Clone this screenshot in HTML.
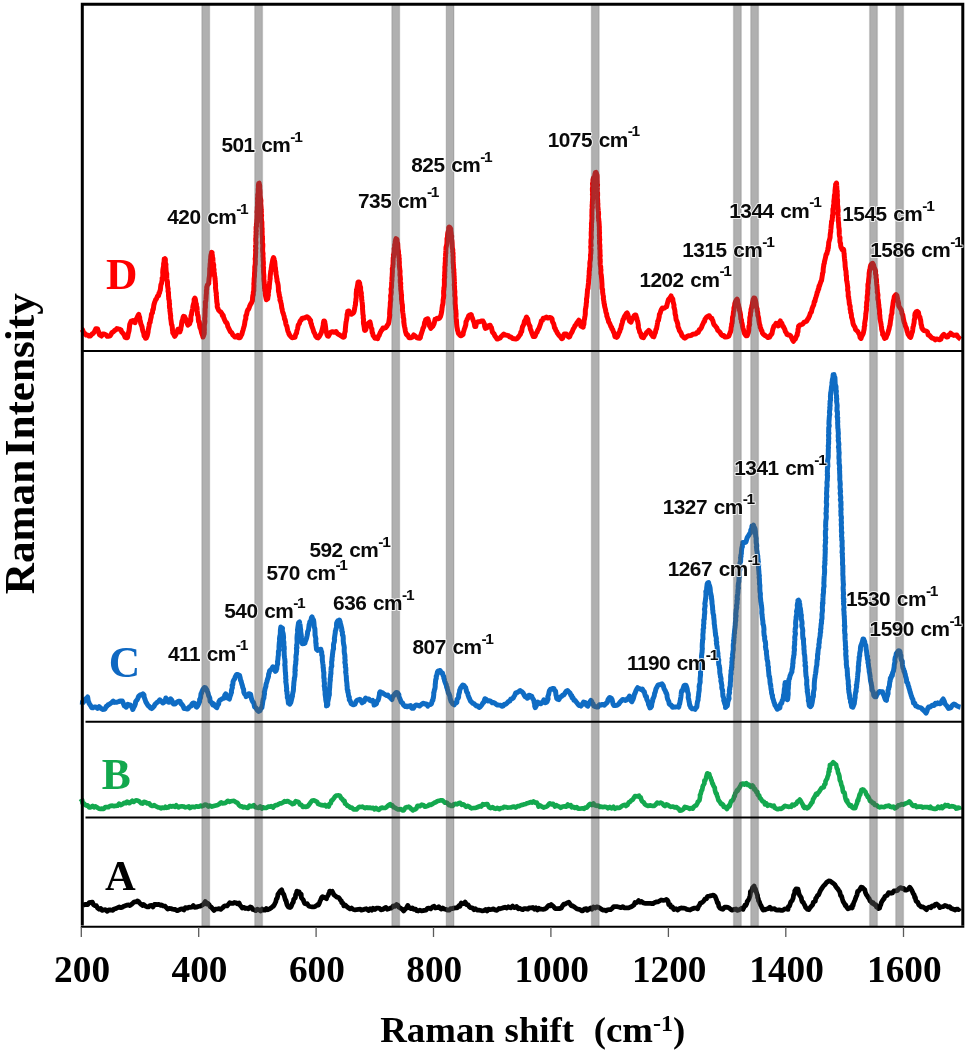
<!DOCTYPE html>
<html lang="en"><head><meta charset="utf-8"><title>Raman spectra</title>
<style>
html,body{margin:0;padding:0;background:#fff}
svg{display:block}
.lab{font-family:"Liberation Sans",Arial,sans-serif;font-weight:bold;font-size:20.8px;fill:#0a0a0a;word-spacing:1.4px;letter-spacing:-0.5px;stroke:#fff;stroke-width:2px;stroke-opacity:.8;paint-order:stroke;stroke-linejoin:round}
.sup{font-size:15.5px;letter-spacing:-1.3px}
.ser{font-family:"Liberation Serif","Times New Roman",serif;font-weight:bold;fill:#000}
.crv{fill:none;stroke-linejoin:round;stroke-linecap:butt}
</style></head>
<body>
<svg width="967" height="1054" viewBox="0 0 967 1054">
<rect x="0" y="0" width="967" height="1054" fill="#fff"/>
<g id="curves">
<path class="crv" d="M81.6,329.6 L82.5,329.6 L83.1,331.3 L84.1,333.4 L84.8,333.5 L86.2,335.1 L87.5,334.9 L88.9,336.0 L90.4,336.0 L92.2,333.8 L92.9,333.6 L94.4,331.8 L95.1,330.3 L95.9,328.7 L97.0,328.7 L97.6,329.0 L98.2,330.9 L98.7,332.1 L99.5,334.7 L100.1,335.1 L101.5,336.0 L102.5,334.1 L104.1,334.0 L105.8,334.7 L107.2,336.3 L108.2,336.3 L110.2,335.8 L111.0,334.5 L111.9,332.7 L113.6,331.6 L114.6,330.5 L116.1,329.6 L116.9,328.6 L118.5,329.0 L119.6,329.2 L121.0,329.9 L121.7,332.1 L123.2,333.6 L124.0,334.6 L125.1,337.4 L126.3,337.7 L127.2,337.2 L127.5,337.6 L127.9,335.6 L128.1,334.2 L128.8,331.5 L129.0,330.8 L129.3,328.7 L129.5,326.5 L129.7,324.8 L129.8,324.3 L131.1,321.2 L132.1,320.9 L132.9,320.5 L134.0,322.2 L135.1,322.6 L135.4,321.0 L136.1,319.5 L137.1,317.6 L137.8,315.9 L138.2,315.2 L138.8,314.5 L138.9,315.5 L139.7,317.4 L139.8,319.9 L140.3,321.0 L140.8,323.7 L141.3,324.9 L142.1,327.0 L142.4,329.2 L142.9,331.2 L143.7,333.0 L144.1,335.9 L144.9,336.3 L145.5,338.2 L145.8,337.2 L146.3,338.0 L146.7,337.1 L147.3,335.5 L147.5,334.6 L148.1,332.0 L148.2,330.2 L148.7,327.9 L149.1,325.9 L149.4,323.3 L150.2,322.3 L150.3,320.8 L150.6,319.4 L151.2,317.0 L151.4,314.6 L152.1,313.0 L152.5,312.8 L152.7,309.8 L153.3,309.4 L153.6,307.1 L153.8,305.3 L154.1,304.4 L154.6,302.4 L154.8,302.0 L155.6,299.7 L156.4,299.0 L157.3,296.5 L157.6,296.1 L158.6,295.7 L158.9,293.2 L159.5,293.0 L159.9,290.9 L160.3,290.1 L160.4,289.2 L160.6,287.3 L160.9,284.8 L161.6,283.2 L161.8,282.0 L162.2,279.8 L162.1,278.1 L162.6,276.8 L162.9,275.2 L162.7,272.5 L162.9,269.4 L163.1,268.4 L163.6,266.2 L163.6,263.8 L164.1,261.7 L164.2,260.0 L164.2,259.0 L164.8,258.9 L165.0,258.7 L164.9,259.6 L165.3,259.0 L165.4,260.1 L165.3,262.4 L165.4,262.8 L166.0,264.6 L165.8,265.8 L166.0,268.5 L166.1,270.7 L166.4,272.8 L166.8,273.7 L166.7,276.1 L166.8,278.4 L166.9,279.5 L167.5,281.9 L167.5,284.1 L167.5,285.3 L168.0,288.5 L168.2,288.6 L168.0,291.1 L168.5,292.6 L168.5,294.4 L168.5,295.9 L168.7,297.1 L168.7,298.8 L169.3,300.8 L169.3,302.8 L169.6,304.0 L169.4,305.6 L169.6,308.0 L170.0,308.8 L169.9,310.7 L170.2,312.3 L170.2,312.9 L170.4,314.4 L170.7,315.7 L170.6,317.9 L171.0,320.3 L171.3,322.6 L171.4,324.1 L172.0,325.4 L172.3,327.5 L172.5,330.5 L172.8,331.1 L172.7,332.8 L173.4,333.6 L173.7,334.3 L174.0,334.9 L174.7,336.3 L176.0,334.3 L177.1,331.6 L177.9,329.2 L178.8,330.7 L179.9,331.9 L180.0,330.0 L180.7,329.8 L180.9,327.7 L181.4,325.7 L181.6,323.5 L182.0,321.1 L182.6,319.9 L183.0,317.8 L183.3,316.8 L183.6,316.3 L184.6,316.6 L185.2,318.2 L185.8,319.0 L186.6,321.9 L187.3,323.5 L187.9,325.1 L189.7,323.7 L190.0,322.3 L190.3,321.5 L190.8,320.6 L190.8,318.4 L191.0,315.6 L191.5,314.8 L191.7,312.6 L192.4,309.8 L192.7,308.6 L192.9,306.4 L193.4,304.4 L193.8,303.2 L194.2,301.2 L194.1,299.6 L194.4,299.3 L194.9,298.0 L195.2,299.0 L195.4,299.3 L195.6,300.8 L195.8,302.7 L196.4,304.0 L196.4,306.5 L197.0,307.4 L197.2,310.7 L197.4,312.5 L197.5,314.8 L198.0,315.5 L198.3,317.3 L198.3,318.9 L198.6,321.6 L199.4,322.0 L199.5,324.1 L199.6,325.4 L200.0,327.6 L200.2,328.0 L200.8,328.9 L201.6,332.8 L202.5,335.1 L203.0,337.0 L203.7,335.3 L203.8,334.7 L204.2,333.9 L204.3,332.4 L204.2,331.5 L204.4,329.6 L204.3,327.6 L204.3,326.7 L204.4,324.8 L204.7,323.3 L204.9,321.4 L204.7,318.7 L205.0,316.5 L205.0,314.6 L205.1,312.0 L205.1,310.8 L205.1,308.9 L205.4,307.5 L205.4,305.7 L205.4,303.4 L205.3,302.0 L205.7,301.5 L205.9,299.7 L206.1,297.0 L206.2,294.6 L206.4,293.5 L206.4,290.4 L206.7,289.4 L206.7,287.2 L206.9,286.6 L207.1,286.2 L207.3,285.1 L208.8,283.4 L208.7,282.4 L208.9,280.9 L209.0,279.0 L209.2,277.6 L209.5,275.9 L209.6,273.8 L209.7,271.3 L209.7,268.6 L210.0,267.3 L210.1,264.0 L210.4,262.4 L210.4,259.6 L210.6,258.9 L210.7,256.6 L211.0,254.6 L211.1,254.9 L211.4,253.2 L211.6,253.1 L211.6,252.3 L212.1,252.7 L211.8,254.1 L212.2,254.2 L212.4,255.8 L212.4,256.9 L212.9,258.5 L212.9,259.8 L213.0,261.4 L213.2,263.6 L213.7,264.8 L213.6,267.9 L214.1,269.7 L213.9,271.9 L214.4,273.1 L214.5,275.9 L214.9,277.0 L215.0,278.9 L215.3,281.3 L215.4,283.5 L215.5,284.5 L215.6,285.8 L215.5,288.0 L215.8,290.2 L216.0,292.1 L216.4,293.3 L216.2,295.2 L216.5,296.5 L216.5,298.0 L216.8,300.9 L216.7,301.0 L217.1,303.6 L217.4,304.5 L217.2,306.1 L217.3,307.0 L217.5,307.5 L218.4,309.6 L219.0,310.6 L220.2,311.8 L220.9,312.1 L221.8,313.4 L222.4,315.5 L223.2,315.3 L223.7,317.9 L224.1,318.5 L225.0,320.8 L225.7,322.3 L226.5,322.5 L227.3,323.9 L227.8,326.6 L228.5,327.8 L229.4,329.6 L230.5,331.9 L230.9,331.9 L231.9,333.0 L232.8,334.9 L233.6,335.5 L234.8,337.0 L236.4,336.7 L237.8,335.4 L238.8,337.7 L239.8,337.2 L240.1,337.6 L241.1,335.6 L241.9,334.2 L242.7,330.9 L243.0,330.2 L243.2,329.5 L243.7,327.5 L244.2,325.9 L244.6,324.1 L244.8,322.5 L245.1,320.6 L245.8,318.7 L245.8,315.8 L246.5,314.9 L246.6,314.5 L247.1,311.7 L247.9,309.6 L248.5,309.5 L249.3,307.3 L249.7,306.0 L250.4,304.8 L250.5,304.3 L251.4,303.1 L251.6,302.5 L252.4,300.8 L252.6,297.6 L252.7,296.7 L252.9,295.2 L253.3,295.0 L253.3,292.4 L253.5,291.6 L253.8,290.7 L253.8,289.3 L253.8,288.1 L254.0,285.5 L253.8,284.0 L254.1,281.7 L254.1,280.6 L254.1,279.0 L254.5,276.1 L254.5,273.9 L254.6,272.2 L254.8,270.6 L254.7,269.9 L254.8,267.6 L254.7,267.2 L255.0,265.6 L255.3,264.2 L255.3,262.6 L255.4,260.8 L255.1,258.7 L255.4,257.8 L255.5,255.6 L255.6,253.4 L255.7,252.1 L255.5,250.0 L255.9,248.4 L255.5,246.0 L255.8,244.8 L256.0,242.4 L255.8,241.5 L255.7,238.8 L256.0,237.2 L255.9,235.5 L256.2,234.2 L256.0,231.7 L256.4,231.0 L256.1,229.6 L256.1,227.2 L256.6,226.2 L256.4,224.9 L256.6,223.4 L256.8,221.2 L256.8,220.0 L257.0,218.4 L257.0,216.4 L257.2,213.4 L256.9,212.1 L257.3,209.6 L257.3,207.2 L257.6,205.7 L257.5,202.4 L257.7,201.0 L257.5,198.6 L257.9,196.2 L257.7,194.8 L258.1,193.6 L258.3,191.6 L258.2,190.0 L258.3,188.5 L258.5,187.9 L258.4,186.2 L258.5,184.7 L258.7,184.4 L258.8,184.4 L258.7,183.5 L259.2,183.6 L259.1,183.1 L259.2,184.4 L259.5,184.5 L259.6,185.7 L259.7,185.8 L259.7,187.6 L259.7,188.9 L259.9,189.7 L260.0,190.9 L260.1,193.1 L260.0,194.5 L260.3,197.6 L260.5,198.6 L260.9,200.6 L260.7,203.5 L260.9,205.1 L261.1,207.4 L261.2,209.5 L261.4,212.0 L261.1,213.2 L261.6,215.5 L261.3,217.5 L261.6,220.6 L261.6,221.7 L261.9,222.1 L261.9,225.1 L261.9,225.9 L261.9,228.2 L262.2,228.5 L262.1,230.6 L262.2,231.9 L262.1,233.8 L262.3,236.4 L262.5,238.2 L262.5,238.8 L262.4,241.5 L262.4,243.1 L262.8,244.2 L262.8,246.0 L262.6,249.1 L262.6,250.2 L262.8,252.6 L263.1,253.4 L262.9,256.1 L263.0,256.7 L263.2,258.5 L263.1,259.7 L263.4,262.3 L263.4,264.3 L263.2,265.2 L263.3,267.0 L263.6,267.5 L263.4,269.6 L263.5,270.0 L263.5,271.9 L263.8,275.0 L263.9,276.7 L263.8,278.6 L264.0,281.0 L264.2,282.2 L264.3,284.3 L264.5,286.2 L264.5,288.2 L264.9,289.0 L264.7,290.0 L265.2,291.8 L265.3,293.3 L265.2,293.8 L265.4,294.2 L265.4,295.3 L266.4,299.7 L267.7,298.8 L267.9,297.4 L267.9,296.8 L268.4,295.1 L268.2,292.8 L268.6,291.9 L268.7,289.3 L269.2,288.5 L269.3,285.9 L269.6,282.9 L269.7,281.7 L269.8,281.1 L270.2,278.2 L270.1,277.6 L270.3,275.1 L270.6,272.9 L270.7,271.2 L271.0,270.7 L271.3,267.9 L271.6,266.4 L271.7,265.0 L272.0,263.8 L272.1,263.2 L272.8,259.6 L273.5,257.6 L274.1,259.0 L274.2,259.7 L274.4,260.4 L274.8,262.1 L274.8,262.6 L275.0,264.4 L275.1,266.5 L275.5,268.1 L275.6,270.4 L276.0,272.1 L276.0,274.0 L276.5,276.2 L276.8,278.6 L277.1,280.1 L277.0,281.0 L277.6,282.4 L277.9,283.9 L278.2,285.7 L278.4,288.4 L278.4,290.2 L278.6,291.8 L279.0,292.8 L279.2,294.7 L279.5,296.5 L280.1,298.0 L279.9,300.1 L280.7,301.1 L280.7,302.4 L281.2,303.6 L281.5,305.8 L281.8,308.1 L282.2,309.3 L282.4,310.7 L282.8,312.6 L283.2,313.1 L283.6,314.7 L284.2,316.5 L284.5,319.0 L285.2,319.9 L285.6,321.9 L285.8,323.6 L286.2,325.0 L286.8,326.1 L287.4,328.9 L287.7,330.5 L288.1,331.6 L288.8,333.0 L288.8,333.6 L290.0,335.6 L291.2,336.9 L292.1,337.8 L293.4,337.4 L295.1,337.2 L295.3,335.7 L295.9,333.8 L296.6,333.0 L296.8,331.0 L297.5,329.0 L297.9,327.0 L298.3,324.8 L299.2,324.0 L299.9,321.7 L300.5,320.5 L301.3,319.9 L301.9,318.6 L303.3,317.9 L304.8,317.9 L305.8,317.1 L307.2,316.8 L308.5,317.7 L310.1,320.0 L310.6,320.4 L310.7,322.8 L311.5,324.3 L311.5,325.0 L312.2,327.2 L312.7,328.4 L312.9,328.9 L313.8,332.0 L314.5,333.1 L314.9,334.0 L315.8,336.5 L316.6,336.4 L317.0,337.6 L318.1,337.9 L319.3,336.5 L320.1,335.0 L320.8,333.7 L321.2,333.0 L321.8,330.9 L322.3,329.2 L322.8,327.0 L323.4,324.3 L323.3,323.4 L323.8,320.9 L324.3,320.9 L324.8,321.6 L324.8,322.5 L325.2,324.3 L325.4,325.8 L325.7,328.2 L325.9,330.8 L326.2,331.1 L327.0,334.7 L327.7,336.0 L328.4,336.3 L328.9,335.4 L329.8,333.7 L331.0,332.1 L332.4,331.7 L334.2,332.3 L336.0,331.5 L337.4,333.6 L338.7,334.5 L339.9,335.1 L341.5,336.2 L343.0,337.2 L344.1,337.0 L344.4,336.5 L344.4,335.3 L344.6,333.4 L345.0,331.9 L345.3,331.3 L345.3,329.3 L345.5,327.3 L345.7,325.3 L345.8,324.2 L346.1,321.9 L346.4,320.5 L346.8,318.3 L347.1,315.8 L347.0,314.9 L347.4,313.3 L348.0,311.8 L347.8,311.3 L349.0,311.0 L349.9,313.7 L351.3,314.3 L353.1,313.2 L353.7,312.6 L354.2,311.0 L354.9,306.9 L355.0,306.1 L355.4,305.1 L355.5,304.0 L355.5,302.4 L355.9,301.1 L355.9,299.2 L356.3,297.3 L356.2,294.7 L356.2,293.8 L356.4,291.8 L356.7,289.4 L356.7,289.3 L357.0,288.4 L357.7,284.3 L358.0,282.3 L358.3,281.9 L359.0,282.0 L359.0,282.3 L359.6,282.8 L359.9,285.5 L360.6,287.4 L360.6,290.3 L360.9,291.4 L360.9,291.6 L361.4,293.2 L361.2,295.0 L361.7,297.2 L361.6,299.1 L361.9,300.6 L362.0,301.6 L362.3,303.4 L362.4,305.3 L362.6,306.9 L362.5,308.7 L362.6,309.6 L362.8,312.3 L362.9,314.1 L363.3,315.8 L363.2,318.1 L363.6,319.4 L363.4,321.3 L363.5,323.7 L363.8,324.6 L364.1,326.7 L364.3,327.9 L364.5,329.7 L364.6,330.1 L364.9,329.9 L365.2,330.4 L365.8,329.7 L366.5,326.1 L367.2,324.3 L368.0,323.5 L370.0,321.9 L370.0,322.0 L370.7,324.8 L370.9,326.9 L371.4,328.1 L371.9,329.0 L372.1,332.3 L372.6,332.9 L373.1,335.6 L373.7,336.1 L375.1,338.3 L376.9,338.3 L377.7,338.6 L378.5,335.9 L379.0,335.8 L380.0,333.1 L380.5,332.2 L381.4,330.3 L381.9,330.1 L383.0,328.0 L384.2,328.3 L385.7,327.7 L387.0,326.2 L387.1,325.3 L387.8,324.7 L388.1,324.0 L388.4,323.8 L388.9,321.7 L389.5,317.3 L389.7,315.9 L389.8,314.8 L389.6,314.3 L389.6,313.3 L389.7,312.0 L389.8,310.0 L390.0,308.1 L390.2,306.6 L390.3,305.3 L390.3,302.8 L390.6,301.3 L390.8,299.7 L390.7,297.3 L390.6,295.6 L391.0,294.7 L391.3,292.5 L391.2,290.6 L391.0,289.0 L391.4,287.9 L391.6,286.3 L391.6,284.2 L391.6,282.6 L391.8,281.3 L392.0,279.7 L391.9,278.4 L392.2,275.9 L392.2,274.5 L392.4,271.8 L392.4,270.6 L392.3,268.6 L392.9,266.6 L392.8,265.7 L393.1,264.1 L393.1,262.0 L393.1,260.9 L393.2,259.7 L393.2,258.2 L393.7,256.1 L393.4,254.8 L393.8,254.3 L394.2,251.0 L394.1,248.5 L394.8,247.1 L394.6,245.0 L395.3,243.0 L395.2,241.9 L395.7,239.4 L396.0,239.1 L396.1,238.6 L396.2,238.8 L396.6,239.3 L397.0,239.4 L397.0,241.9 L397.4,242.7 L397.7,243.7 L397.8,245.6 L398.0,249.1 L398.5,251.5 L398.5,254.1 L398.7,254.9 L399.0,255.3 L398.9,257.4 L399.3,258.7 L399.1,260.3 L399.3,261.3 L399.4,262.8 L399.3,264.4 L399.4,266.3 L399.7,268.6 L399.9,270.2 L400.1,271.1 L400.0,272.8 L399.9,275.1 L400.2,276.2 L400.5,279.4 L400.2,279.6 L400.3,282.6 L400.8,283.3 L400.5,285.8 L400.8,286.7 L400.7,288.7 L400.9,290.5 L401.2,292.1 L401.2,293.6 L401.6,295.1 L401.5,296.9 L401.5,298.2 L401.5,299.2 L401.9,302.1 L401.9,303.2 L402.4,305.0 L402.5,308.1 L402.4,309.9 L402.5,310.4 L402.8,312.6 L403.1,314.4 L403.3,316.3 L403.2,317.1 L403.7,318.5 L403.9,321.0 L403.7,321.5 L403.9,323.0 L404.1,323.7 L404.2,325.1 L404.5,326.6 L404.9,328.0 L405.4,331.2 L405.8,332.5 L406.4,334.4 L407.3,335.4 L407.8,335.0 L409.0,337.7 L410.9,337.7 L412.4,337.1 L413.8,335.0 L415.2,336.0 L416.7,337.6 L418.0,338.0 L419.5,338.3 L420.4,337.7 L420.5,336.0 L421.3,334.0 L421.5,333.2 L422.1,331.5 L422.5,330.3 L423.0,328.2 L423.6,327.3 L424.2,325.6 L424.6,322.7 L424.8,322.0 L425.6,321.0 L425.6,319.5 L427.9,318.7 L428.3,320.3 L428.8,321.6 L429.2,323.1 L429.5,325.9 L430.0,326.4 L430.8,328.4 L431.6,327.3 L432.9,326.1 L433.7,324.5 L434.0,324.0 L434.8,320.7 L435.0,319.3 L435.6,319.3 L437.0,318.3 L438.6,318.7 L439.5,318.1 L440.1,317.2 L440.5,316.5 L441.2,314.1 L441.7,311.5 L441.9,310.0 L441.9,309.9 L442.1,307.8 L442.3,306.8 L442.4,305.5 L442.8,304.5 L443.1,302.1 L443.1,300.7 L443.2,299.6 L443.5,298.0 L443.8,295.1 L443.6,293.9 L443.6,291.1 L443.9,289.8 L443.9,287.7 L444.1,287.5 L444.3,286.4 L444.4,284.8 L444.4,282.6 L444.4,280.3 L444.3,279.6 L444.8,276.9 L444.5,275.7 L444.7,274.7 L444.7,272.1 L444.9,271.4 L444.9,269.1 L444.8,267.0 L445.3,264.9 L445.1,263.9 L445.3,262.1 L445.4,260.5 L445.3,258.4 L445.5,257.0 L445.6,256.0 L445.6,253.8 L445.9,253.2 L445.8,251.5 L445.9,250.2 L446.0,247.5 L446.5,245.6 L446.9,243.4 L447.0,240.7 L447.0,238.6 L447.5,236.8 L447.6,234.6 L447.8,233.0 L448.4,230.9 L448.7,229.9 L448.7,227.8 L449.2,227.4 L449.2,227.0 L449.8,227.6 L449.9,227.8 L449.9,227.6 L450.1,228.0 L450.7,228.9 L450.8,231.0 L451.2,233.4 L451.0,234.0 L451.7,236.1 L451.5,239.1 L451.9,240.4 L452.1,242.8 L452.2,245.3 L452.3,247.7 L452.8,249.9 L452.8,250.7 L452.6,251.6 L453.1,253.2 L452.9,255.5 L453.2,257.0 L453.1,258.8 L453.2,260.4 L453.1,261.9 L453.2,263.0 L453.4,264.3 L453.5,267.1 L453.4,267.7 L453.9,269.8 L453.7,272.3 L454.0,272.8 L454.0,274.6 L454.1,276.9 L454.2,277.8 L454.3,279.7 L454.4,281.7 L454.5,282.8 L454.2,285.0 L454.6,286.6 L454.5,287.7 L454.6,289.6 L454.9,291.9 L454.8,292.7 L454.7,295.8 L455.0,296.5 L455.2,298.3 L455.1,301.1 L455.1,301.7 L455.1,303.6 L455.4,305.7 L455.4,306.9 L455.6,309.3 L455.9,310.8 L455.9,312.5 L456.1,313.8 L456.0,315.8 L456.1,317.5 L456.2,318.5 L456.5,320.9 L456.4,321.6 L456.6,322.3 L456.6,323.6 L456.9,326.7 L457.3,328.7 L457.5,330.2 L458.0,331.4 L458.4,333.4 L458.7,333.4 L459.8,335.1 L460.5,335.8 L461.8,335.5 L463.1,334.3 L463.3,332.2 L463.7,331.5 L464.3,329.1 L464.6,328.5 L465.4,326.1 L465.8,324.7 L466.0,321.7 L466.6,320.7 L467.1,319.4 L467.9,318.1 L468.6,315.9 L469.5,315.1 L470.5,315.5 L471.2,314.6 L471.8,316.5 L472.5,318.4 L473.2,320.4 L473.3,320.6 L474.0,322.4 L474.4,324.1 L474.6,325.4 L474.8,326.4 L475.8,326.5 L476.2,324.1 L477.0,322.4 L477.9,321.7 L479.6,321.7 L481.2,321.0 L483.0,321.1 L483.6,322.2 L484.5,324.2 L484.6,326.2 L485.4,328.4 L486.1,328.2 L487.5,327.3 L488.8,325.6 L490.2,325.2 L490.8,327.0 L491.3,327.2 L491.7,328.8 L492.4,331.9 L493.0,332.9 L494.0,333.7 L494.8,335.7 L496.1,337.5 L497.0,339.0 L497.9,338.9 L498.9,338.5 L500.1,338.0 L501.0,336.7 L501.8,336.1 L503.8,334.1 L505.3,335.1 L507.0,335.3 L508.5,335.7 L509.8,337.1 L511.0,336.9 L512.6,338.5 L514.4,338.8 L515.9,339.1 L517.3,338.4 L518.7,336.7 L519.8,335.0 L520.5,334.3 L520.8,332.0 L521.7,331.7 L522.0,329.1 L522.5,326.7 L523.0,326.0 L523.9,324.0 L524.4,321.5 L525.3,319.8 L525.8,318.7 L526.5,317.0 L527.2,318.7 L527.7,318.9 L528.2,322.2 L528.8,323.9 L529.2,325.0 L530.0,326.1 L530.2,328.3 L530.7,329.9 L531.1,330.6 L531.6,332.3 L532.1,333.6 L533.3,336.6 L534.9,336.4 L535.6,334.9 L536.1,333.2 L537.0,332.3 L537.7,330.3 L538.3,329.4 L539.1,328.0 L539.6,326.5 L540.3,324.5 L541.0,322.5 L541.4,320.6 L542.5,320.4 L543.2,318.3 L544.8,318.1 L546.4,317.0 L547.8,318.1 L550.1,317.5 L551.4,318.1 L552.1,318.9 L552.3,321.1 L552.9,322.6 L553.5,323.3 L554.0,324.9 L554.5,327.8 L555.3,328.6 L555.7,330.2 L556.7,331.5 L557.4,333.2 L558.0,333.9 L559.0,335.5 L560.1,336.5 L560.9,337.5 L561.8,338.7 L562.7,338.3 L563.3,335.7 L564.4,333.9 L564.9,334.0 L566.3,334.0 L567.5,336.0 L568.9,337.2 L569.7,336.7 L570.3,335.0 L571.1,333.3 L572.0,332.2 L572.5,330.9 L573.1,329.3 L574.2,327.5 L574.9,325.9 L575.3,325.4 L576.2,324.2 L577.0,322.7 L578.0,321.5 L578.9,320.2 L579.6,322.2 L580.6,324.1 L580.8,326.0 L583.2,327.2 L583.0,325.6 L583.6,325.2 L583.9,324.3 L584.0,322.7 L584.1,320.2 L584.5,319.2 L584.8,317.0 L585.0,316.0 L585.3,314.1 L585.3,311.8 L585.4,309.3 L585.8,307.9 L585.8,307.3 L586.1,306.3 L586.2,304.3 L586.3,303.0 L586.6,301.8 L586.5,298.8 L586.8,298.0 L587.1,295.6 L587.1,294.6 L587.3,293.2 L587.4,291.5 L587.5,289.7 L588.0,288.4 L588.2,285.2 L588.3,285.0 L588.5,282.7 L588.6,280.9 L588.7,279.7 L589.0,277.3 L588.9,275.9 L589.2,275.6 L589.2,273.8 L589.2,270.9 L589.6,270.0 L589.4,268.9 L589.9,266.4 L589.9,265.4 L589.8,263.4 L589.9,262.3 L590.1,261.1 L590.4,260.1 L590.6,257.4 L590.6,256.9 L590.5,254.9 L590.9,253.3 L590.9,251.2 L591.1,250.5 L590.8,248.0 L590.7,246.6 L591.2,245.5 L590.9,242.9 L590.9,241.3 L591.0,239.5 L591.2,239.0 L591.4,236.9 L591.2,235.7 L591.2,232.6 L591.2,232.2 L591.5,229.8 L591.3,228.8 L591.5,227.5 L591.5,224.7 L591.4,223.3 L591.7,222.4 L591.8,219.7 L592.0,218.8 L591.9,216.8 L591.8,215.2 L592.0,214.8 L591.9,212.3 L592.0,210.2 L591.9,209.9 L592.4,207.2 L592.1,206.4 L592.2,204.5 L592.5,203.0 L592.3,202.6 L592.5,200.5 L592.6,197.6 L592.7,195.7 L592.4,194.5 L592.7,193.4 L592.4,190.2 L592.4,188.4 L592.8,186.6 L592.7,185.2 L592.5,183.8 L592.7,182.8 L593.0,181.6 L592.9,180.1 L593.5,177.7 L594.4,177.6 L594.9,174.3 L595.4,172.7 L596.0,172.3 L596.5,173.5 L596.6,174.8 L597.0,175.0 L597.1,176.9 L597.1,179.5 L597.2,181.3 L597.2,183.5 L597.6,185.1 L597.2,185.9 L597.3,187.2 L597.4,188.2 L597.2,190.2 L597.2,192.4 L597.6,192.7 L597.6,195.7 L597.2,197.0 L597.5,198.0 L597.7,200.4 L597.7,202.7 L597.9,203.7 L597.9,204.2 L597.8,206.3 L597.9,207.6 L598.2,209.5 L598.3,210.8 L598.5,212.2 L598.6,214.1 L598.4,215.8 L598.4,217.5 L598.8,219.3 L598.6,220.3 L599.0,221.4 L599.2,224.4 L599.2,225.8 L599.4,226.9 L599.3,229.2 L599.4,229.8 L599.4,232.2 L599.6,232.8 L599.3,235.3 L599.6,237.0 L599.5,238.2 L599.8,239.6 L599.5,240.9 L599.5,243.5 L599.8,244.6 L599.9,246.1 L599.7,248.5 L600.0,249.9 L600.0,251.5 L600.0,253.7 L600.0,254.8 L600.3,255.6 L599.9,257.2 L600.1,259.6 L600.3,261.4 L600.1,263.3 L600.3,265.0 L600.5,266.4 L600.7,266.6 L600.7,268.7 L601.0,270.0 L600.8,271.5 L600.8,273.6 L601.2,274.5 L601.4,276.2 L601.6,278.5 L601.7,279.7 L601.8,281.6 L601.9,282.9 L602.0,284.4 L602.0,287.1 L602.1,288.7 L602.6,289.3 L602.6,292.1 L602.8,293.3 L603.0,294.5 L603.5,297.1 L603.3,298.1 L603.7,300.5 L603.9,301.1 L604.0,303.0 L604.5,304.7 L604.4,304.9 L604.9,307.4 L605.4,309.1 L605.9,312.0 L606.0,312.4 L606.7,314.2 L606.8,316.2 L607.3,317.2 L607.9,319.4 L608.4,319.8 L608.5,321.7 L609.5,323.0 L610.1,324.4 L611.0,326.9 L611.7,327.2 L611.9,329.0 L612.7,329.5 L613.3,331.6 L614.1,332.9 L614.4,334.0 L614.9,336.6 L615.9,335.9 L616.7,337.3 L617.7,336.2 L618.5,334.1 L619.4,331.9 L619.6,331.9 L620.1,329.8 L620.9,328.3 L621.3,325.9 L621.9,324.1 L622.2,323.1 L622.8,320.7 L623.0,319.6 L623.6,318.9 L624.2,317.0 L624.7,316.3 L626.2,313.7 L627.1,312.9 L627.8,314.3 L628.1,315.2 L628.4,316.4 L628.7,318.7 L629.4,320.5 L629.7,321.3 L631.0,322.2 L631.9,319.5 L632.6,318.2 L633.5,317.0 L634.3,315.5 L635.0,315.0 L635.8,314.9 L636.4,317.1 L636.9,318.4 L637.1,320.1 L637.7,321.4 L638.1,323.7 L638.4,325.4 L638.3,327.3 L638.8,328.9 L639.3,330.1 L639.7,332.3 L640.5,332.9 L641.2,336.0 L641.9,337.3 L642.5,337.4 L643.4,337.7 L644.7,335.3 L645.7,334.2 L646.5,332.6 L647.8,331.5 L648.8,330.3 L650.6,332.4 L651.2,334.4 L652.1,335.2 L652.8,336.4 L653.8,336.8 L654.3,335.4 L654.7,333.9 L655.4,332.6 L655.9,329.5 L656.5,328.9 L656.9,326.4 L657.2,324.9 L657.5,323.1 L657.8,321.0 L658.5,320.3 L658.7,318.8 L659.2,316.9 L659.4,314.3 L660.2,313.1 L660.6,311.6 L661.3,309.6 L662.4,308.0 L663.2,308.4 L664.8,307.8 L666.2,306.8 L666.6,306.8 L667.2,304.0 L667.6,302.6 L667.9,301.5 L668.5,299.4 L669.9,298.0 L671.1,296.0 L671.3,297.5 L671.9,297.8 L672.8,299.2 L673.0,301.4 L673.8,304.4 L674.0,304.9 L673.9,307.1 L674.2,308.1 L674.7,309.5 L675.0,311.8 L675.0,313.1 L675.2,314.3 L675.7,315.7 L675.9,318.1 L676.2,320.0 L676.6,320.5 L677.2,322.2 L677.8,324.1 L677.9,326.3 L678.5,327.8 L678.8,328.4 L679.4,330.5 L679.9,331.2 L681.1,333.1 L681.9,335.6 L683.2,336.7 L683.8,337.5 L684.8,338.1 L686.5,336.9 L688.2,335.7 L690.1,335.7 L691.5,335.3 L692.8,334.3 L694.7,334.1 L696.1,333.8 L696.9,332.4 L698.3,332.4 L699.2,329.7 L699.8,329.8 L701.1,328.0 L701.6,327.1 L702.2,325.3 L703.2,323.4 L703.9,321.6 L704.6,321.5 L704.9,319.4 L706.2,317.6 L707.1,316.7 L708.2,316.1 L709.3,315.7 L710.8,318.2 L711.8,318.3 L712.2,319.7 L712.8,320.6 L713.6,323.6 L714.1,324.8 L715.1,325.8 L716.1,327.1 L716.9,328.0 L717.7,330.3 L719.1,331.4 L720.2,332.7 L721.1,334.3 L722.6,335.7 L723.8,335.6 L724.8,336.9 L725.8,336.9 L727.7,336.8 L728.9,335.9 L729.8,333.4 L730.2,332.2 L730.5,331.9 L731.0,329.7 L731.1,327.6 L731.6,325.9 L731.6,324.1 L732.1,323.1 L732.4,320.6 L732.4,319.4 L732.5,317.3 L733.2,315.4 L733.3,313.5 L733.5,311.5 L733.9,310.7 L733.9,308.0 L734.2,307.1 L734.5,306.3 L734.8,304.0 L734.8,303.6 L735.5,301.7 L736.4,300.0 L737.1,299.2 L737.5,300.1 L737.5,300.7 L737.9,303.6 L738.4,304.7 L738.6,306.1 L739.3,308.8 L739.4,310.0 L739.8,311.2 L740.1,312.5 L740.5,314.6 L740.7,316.9 L740.8,318.9 L741.5,319.9 L741.4,321.8 L741.9,322.8 L742.3,324.5 L742.4,325.7 L742.9,328.1 L743.4,329.5 L743.8,331.1 L744.4,333.2 L745.0,334.3 L745.6,335.3 L746.2,335.8 L746.7,335.8 L747.2,335.8 L747.6,334.5 L748.4,332.3 L748.8,330.1 L748.9,328.3 L748.9,326.2 L749.3,325.7 L749.7,324.3 L749.5,322.7 L749.8,320.1 L749.8,317.7 L750.1,316.6 L750.5,315.1 L750.4,313.4 L751.0,311.3 L751.0,309.5 L751.7,307.4 L751.9,305.8 L752.4,304.2 L752.5,303.0 L753.1,300.1 L753.3,299.1 L753.8,298.2 L754.3,298.5 L754.6,298.1 L755.2,299.3 L755.7,301.7 L756.1,303.9 L756.3,306.0 L756.8,308.3 L757.1,308.7 L757.2,311.1 L757.5,311.6 L757.8,313.3 L757.8,315.3 L758.4,316.9 L758.7,318.4 L758.8,320.0 L759.2,322.5 L759.5,324.2 L760.0,325.4 L760.2,327.4 L760.8,328.3 L761.2,330.0 L761.9,330.8 L762.4,333.0 L763.0,333.8 L764.2,334.9 L765.6,335.9 L766.9,336.6 L768.0,337.6 L769.5,337.2 L770.7,335.0 L771.3,334.5 L772.0,333.5 L772.3,331.9 L772.9,329.0 L773.3,328.2 L773.9,326.1 L775.3,324.6 L776.0,323.4 L777.4,324.0 L778.1,326.0 L778.7,324.9 L779.5,322.3 L780.3,321.0 L780.8,322.7 L781.9,323.3 L782.7,326.3 L783.2,326.2 L784.0,327.8 L784.8,329.4 L785.3,331.4 L786.3,332.7 L787.0,334.5 L788.3,335.1 L789.5,335.1 L790.8,336.1 L791.8,338.1 L792.6,340.0 L793.4,341.3 L794.3,339.5 L795.3,339.3 L796.0,337.2 L796.8,335.4 L797.3,335.1 L797.3,333.4 L798.0,331.6 L798.0,329.6 L798.4,327.7 L798.6,326.2 L799.9,325.0 L801.2,324.7 L802.7,324.2 L803.8,322.5 L805.3,321.7 L806.8,321.1 L807.6,319.2 L808.5,318.3 L808.9,316.9 L809.4,316.4 L810.1,314.0 L810.5,312.9 L811.4,312.0 L812.0,308.9 L812.3,308.3 L812.8,306.7 L813.5,305.5 L813.8,304.6 L814.3,301.5 L814.9,301.5 L815.4,298.7 L816.0,297.0 L816.4,295.6 L816.9,294.1 L817.1,292.6 L817.7,291.8 L818.2,289.2 L818.8,289.0 L818.9,286.3 L819.4,286.4 L820.2,283.5 L820.3,283.5 L820.8,281.8 L821.5,280.5 L821.9,278.0 L822.2,276.1 L822.5,274.6 L822.4,273.8 L823.1,272.1 L823.2,269.2 L823.4,267.5 L823.7,266.0 L823.8,264.5 L824.4,263.1 L824.4,261.9 L825.0,259.6 L825.5,257.5 L825.6,257.2 L825.9,255.3 L826.3,253.9 L826.9,253.7 L827.4,251.0 L827.9,250.2 L827.9,248.1 L828.4,248.0 L828.4,245.7 L828.6,245.4 L828.7,242.4 L829.0,241.6 L829.6,239.3 L829.8,238.5 L830.1,237.5 L830.2,234.7 L830.5,232.6 L830.8,231.5 L830.7,230.5 L831.0,228.2 L831.1,226.8 L831.2,225.3 L831.5,223.3 L831.5,221.5 L832.1,220.7 L832.3,218.1 L832.5,217.5 L832.4,215.9 L832.9,214.0 L832.9,212.4 L832.9,209.5 L833.1,208.8 L833.7,206.4 L833.4,206.0 L834.0,203.3 L833.8,201.7 L834.1,199.2 L834.3,198.3 L834.4,195.4 L835.0,193.6 L835.0,190.5 L835.2,188.9 L835.4,187.0 L835.6,186.6 L835.6,184.2 L836.2,183.9 L836.4,183.0 L836.6,183.2 L836.6,184.1 L836.7,185.7 L836.8,186.8 L836.7,187.8 L836.9,188.0 L836.8,189.3 L837.3,191.3 L837.1,192.7 L837.4,195.2 L837.2,197.5 L837.4,199.4 L837.6,200.9 L837.5,203.7 L837.5,204.4 L837.9,207.4 L838.0,209.4 L838.2,211.1 L837.8,213.4 L838.0,214.8 L838.1,216.4 L838.3,218.5 L838.2,220.5 L838.5,222.1 L838.6,222.9 L838.7,224.9 L838.8,227.4 L839.1,228.5 L839.3,230.9 L839.2,232.7 L839.3,234.5 L839.5,236.1 L840.0,237.9 L839.9,239.3 L839.9,240.7 L840.0,242.1 L840.6,243.5 L840.6,245.4 L840.6,245.3 L841.0,246.9 L840.9,247.1 L842.3,249.7 L843.5,249.3 L843.8,250.2 L843.8,251.4 L844.0,253.3 L844.2,253.9 L844.2,255.5 L844.5,258.3 L844.7,259.8 L844.6,260.1 L845.0,262.3 L845.1,264.9 L845.2,266.9 L845.5,268.3 L845.5,269.3 L846.0,271.1 L846.1,272.9 L846.1,275.4 L846.5,275.9 L846.5,277.5 L846.5,280.1 L846.9,281.4 L847.0,282.2 L847.3,283.9 L847.6,286.7 L847.8,287.2 L847.6,289.9 L847.9,291.0 L848.2,292.0 L848.2,293.4 L848.2,296.3 L848.7,297.2 L848.6,298.1 L849.1,300.5 L849.2,302.4 L849.4,304.2 L849.8,305.1 L850.2,306.5 L850.1,309.0 L850.7,310.4 L850.6,312.5 L851.1,313.0 L851.4,314.9 L851.5,317.1 L852.0,318.5 L852.3,319.4 L852.6,320.7 L852.9,322.9 L853.3,324.4 L853.8,325.5 L854.6,326.6 L855.0,327.4 L855.6,329.7 L856.8,330.7 L857.8,331.6 L858.5,332.9 L859.6,334.8 L860.1,337.5 L861.0,338.4 L861.5,336.8 L862.3,335.3 L863.0,334.1 L863.5,332.3 L863.7,331.1 L864.1,329.4 L864.3,327.7 L864.2,327.1 L864.8,325.2 L864.6,323.6 L865.0,321.3 L865.2,320.2 L865.5,318.5 L865.7,315.9 L865.8,314.1 L865.9,313.5 L866.1,311.9 L866.4,310.2 L866.5,308.8 L866.3,307.2 L866.7,305.6 L866.6,302.6 L867.0,301.2 L867.3,299.4 L867.1,297.7 L867.3,295.7 L867.6,294.1 L867.7,293.5 L867.6,291.5 L867.9,288.7 L868.1,287.7 L867.9,286.9 L867.9,284.3 L868.4,283.0 L868.5,281.6 L868.6,279.9 L869.0,276.7 L869.1,276.3 L869.1,273.5 L869.4,271.8 L869.5,271.2 L869.6,270.1 L870.1,268.8 L870.2,267.3 L870.8,265.0 L871.8,263.7 L872.6,263.3 L873.3,264.5 L873.6,265.7 L874.2,267.4 L875.0,269.5 L875.6,271.1 L875.5,273.1 L875.6,274.4 L876.1,275.0 L876.0,277.5 L876.1,277.8 L876.5,279.7 L876.5,281.0 L876.7,283.9 L876.8,284.9 L877.1,286.9 L877.1,288.1 L877.4,290.9 L877.2,291.9 L877.7,293.4 L878.0,295.1 L877.8,297.1 L877.9,299.4 L878.3,300.1 L878.5,302.4 L878.6,303.9 L878.9,305.2 L878.8,306.4 L879.2,308.6 L879.5,310.1 L879.6,312.0 L879.5,313.6 L879.9,315.7 L879.9,316.5 L880.0,318.6 L880.4,320.6 L880.5,321.0 L880.8,322.8 L880.9,323.0 L881.3,325.9 L881.6,327.4 L881.6,329.0 L882.0,330.6 L882.7,332.6 L882.6,334.5 L883.1,335.0 L883.5,335.4 L884.6,338.3 L885.4,337.4 L886.1,337.6 L886.9,335.3 L887.6,334.0 L887.9,333.0 L888.5,330.9 L888.6,330.2 L889.0,329.2 L889.5,326.5 L890.0,325.2 L890.2,323.7 L890.5,320.8 L890.6,320.5 L891.1,317.4 L891.1,315.9 L891.4,315.0 L892.0,313.1 L892.0,311.9 L892.1,310.0 L892.5,307.2 L892.8,305.4 L893.0,304.3 L893.0,303.7 L893.3,301.5 L894.0,298.8 L894.3,296.7 L895.0,295.7 L895.7,294.9 L896.0,294.6 L896.8,295.6 L896.9,295.5 L897.4,297.9 L897.7,299.5 L898.3,302.1 L898.6,303.4 L898.7,305.7 L899.4,307.0 L900.5,308.8 L901.2,309.9 L901.8,311.9 L901.9,313.2 L902.6,314.7 L902.8,315.1 L903.3,318.2 L903.3,318.4 L903.9,321.1 L904.3,322.8 L904.9,323.9 L905.2,325.5 L905.6,326.4 L906.4,328.1 L906.8,330.0 L907.3,331.9 L907.8,333.2 L908.0,334.2 L909.6,336.7 L910.6,337.4 L911.2,335.6 L911.4,335.0 L911.9,332.8 L912.4,332.0 L912.7,329.8 L913.0,327.1 L913.4,326.0 L913.8,323.9 L914.1,322.9 L914.2,321.4 L914.3,319.7 L914.8,318.3 L914.9,315.4 L914.9,314.3 L915.1,313.5 L916.3,311.8 L917.1,311.4 L917.8,311.9 L918.4,312.3 L918.8,314.5 L919.1,316.5 L919.9,316.9 L920.2,318.8 L920.6,319.9 L920.9,322.3 L921.0,324.0 L921.6,325.6 L921.8,327.9 L922.4,328.2 L922.7,329.5 L923.8,330.5 L925.2,330.7 L926.7,331.3 L927.6,332.1 L928.1,334.9 L928.9,335.0 L929.9,335.8 L930.8,336.9 L932.1,338.1 L933.9,338.6 L935.3,339.8 L936.5,338.9 L938.4,339.4 L939.7,339.8 L940.8,339.3 L941.7,336.9 L942.6,335.6 L943.9,334.4 L945.2,335.9 L946.8,337.1 L947.7,336.9 L948.9,334.8 L949.7,334.7 L950.6,333.2 L952.4,334.7 L953.7,335.4 L955.0,335.2 L956.8,334.9 L957.8,336.7 L959.7,338.5 L960.7,339.2" stroke="#ff0000" stroke-width="5"/>
<path class="crv" d="M82.3,704.6 L82.5,701.8 L84.1,701.5 L85.1,699.3 L86.5,698.3 L87.6,697.0 L87.9,698.5 L88.3,701.3 L88.8,702.2 L89.0,703.2 L89.5,704.0 L90.7,705.7 L91.7,707.8 L93.0,707.8 L94.2,706.9 L95.8,706.9 L97.5,708.4 L99.1,706.7 L101.0,708.4 L102.6,709.4 L104.2,709.3 L105.0,709.0 L106.3,706.3 L107.1,706.2 L108.0,704.8 L109.2,704.5 L110.5,703.3 L111.7,702.6 L113.2,701.2 L114.4,702.4 L115.8,702.2 L116.8,702.3 L118.8,701.5 L120.7,700.9 L122.2,700.9 L123.1,702.8 L123.6,704.1 L124.3,705.9 L124.9,706.1 L126.3,707.2 L127.7,704.3 L129.2,705.2 L130.3,704.9 L131.2,706.1 L132.2,707.9 L132.8,709.5 L133.4,708.0 L134.5,706.1 L134.7,705.6 L135.4,703.6 L135.7,701.4 L136.5,700.6 L137.2,699.8 L137.9,698.2 L138.7,696.2 L140.5,694.8 L141.5,695.0 L142.9,693.8 L144.0,694.9 L144.0,696.6 L144.9,699.1 L145.2,700.0 L145.7,701.6 L146.9,703.6 L147.7,705.0 L148.5,706.1 L149.0,706.2 L150.5,708.0 L151.8,708.6 L153.2,707.2 L154.0,706.3 L155.0,704.3 L156.3,703.2 L157.4,702.2 L158.5,701.4 L159.8,699.8 L161.3,701.1 L162.8,703.0 L164.0,702.3 L165.3,700.2 L165.8,698.0 L166.9,699.4 L168.1,702.0 L169.1,702.2 L170.0,701.2 L170.7,698.8 L171.6,699.8 L172.5,701.7 L172.9,703.3 L173.8,704.1 L175.0,704.1 L175.9,703.1 L176.9,702.2 L178.3,701.2 L179.0,701.2 L180.1,701.5 L181.0,703.8 L181.8,704.2 L183.2,706.2 L184.0,708.5 L185.5,708.6 L187.3,709.0 L188.0,708.8 L189.5,706.7 L191.2,706.0 L191.8,704.3 L193.0,703.1 L193.8,702.9 L194.8,703.4 L196.0,706.6 L196.7,707.2 L197.7,706.0 L198.6,704.0 L199.6,701.5 L199.6,699.5 L199.9,699.2 L200.6,697.6 L201.0,693.8 L201.4,693.6 L201.9,691.7 L202.9,689.5 L204.4,687.6 L205.4,687.7 L206.4,689.1 L207.1,690.6 L207.3,691.3 L208.1,693.2 L208.6,695.6 L209.4,697.2 L209.8,698.0 L210.1,701.4 L210.5,701.5 L211.4,702.3 L212.9,704.9 L213.8,704.0 L215.1,706.1 L216.8,707.7 L217.2,706.6 L217.6,705.2 L218.7,704.0 L218.8,702.0 L219.8,700.2 L221.3,699.4 L222.6,698.4 L224.0,698.3 L224.8,695.1 L225.7,693.8 L226.7,696.7 L227.5,697.9 L228.7,698.5 L229.4,699.0 L229.9,696.9 L230.6,695.0 L230.9,693.9 L231.5,692.4 L231.4,690.6 L231.8,689.2 L232.4,687.6 L232.1,685.5 L232.8,684.7 L233.0,683.0 L233.0,681.8 L233.8,679.9 L234.7,678.7 L235.2,677.0 L236.6,674.5 L237.6,674.4 L238.1,674.7 L238.8,675.0 L239.6,675.6 L240.2,677.8 L240.6,680.7 L241.0,680.7 L241.8,684.0 L242.4,685.6 L242.7,687.2 L243.1,688.2 L243.6,689.3 L243.8,692.2 L244.6,694.0 L245.6,694.8 L246.1,696.7 L246.9,696.0 L247.5,695.6 L248.7,693.8 L249.4,693.8 L250.6,694.3 L250.9,695.9 L251.5,698.8 L252.0,700.3 L252.7,701.8 L253.5,702.4 L254.1,704.4 L254.6,706.9 L255.2,707.4 L255.9,707.9 L257.3,710.1 L258.7,711.4 L259.9,710.7 L260.6,709.0 L261.7,707.2 L261.9,707.6 L262.1,706.0 L262.5,703.7 L262.8,701.5 L263.1,700.1 L263.4,698.6 L263.9,698.2 L264.0,696.0 L264.5,693.9 L264.3,692.1 L264.6,691.4 L265.0,689.1 L265.6,687.2 L265.9,686.4 L265.9,685.2 L266.2,683.8 L266.9,681.7 L267.1,680.9 L267.6,678.9 L268.1,677.7 L268.5,676.3 L268.6,674.2 L269.3,672.5 L269.5,671.0 L270.8,669.6 L271.3,669.5 L271.8,668.9 L272.8,666.8 L273.8,668.7 L275.3,671.4 L276.2,670.6 L276.4,669.5 L276.8,668.8 L276.8,668.1 L277.0,665.9 L277.7,663.6 L277.5,661.7 L277.9,659.6 L278.0,658.2 L278.1,656.6 L278.4,655.3 L278.4,654.5 L278.4,651.4 L279.0,650.2 L279.1,647.7 L279.0,647.2 L279.1,645.2 L279.3,642.6 L279.7,640.8 L279.5,639.6 L279.5,638.4 L279.8,636.4 L279.9,635.9 L280.3,634.5 L280.4,630.1 L280.8,627.0 L280.9,627.7 L281.4,627.7 L281.9,628.1 L281.8,627.7 L282.5,628.2 L282.3,630.3 L282.6,631.7 L283.2,633.7 L283.6,637.2 L283.3,640.6 L283.5,640.9 L283.8,641.5 L283.9,642.8 L283.8,646.0 L284.2,646.7 L284.3,649.1 L284.0,650.0 L284.1,651.0 L284.2,653.0 L284.2,654.8 L284.5,657.4 L284.9,659.8 L284.9,660.9 L285.1,662.0 L284.7,665.2 L285.1,665.7 L285.1,667.6 L285.2,669.6 L285.3,671.9 L285.6,673.0 L285.5,673.9 L285.8,676.7 L285.6,678.1 L286.0,680.0 L285.7,681.7 L286.0,682.8 L286.4,685.5 L286.5,687.4 L286.7,688.5 L286.5,690.6 L287.1,692.2 L287.1,692.0 L287.0,693.5 L287.4,695.6 L287.3,697.6 L287.9,698.5 L288.1,700.3 L288.4,703.3 L289.2,703.3 L289.8,704.2 L290.1,703.5 L290.9,702.3 L291.5,699.7 L292.1,697.2 L292.5,696.0 L292.3,695.3 L292.6,693.9 L293.1,691.7 L293.3,691.1 L293.5,689.0 L293.5,687.0 L293.8,685.0 L293.8,683.6 L294.0,681.6 L294.4,679.3 L294.3,678.5 L294.9,676.3 L294.9,675.7 L295.1,674.1 L294.9,671.6 L295.4,670.2 L295.0,669.7 L295.2,666.9 L295.4,665.1 L295.8,663.6 L295.7,662.0 L296.1,659.5 L296.0,658.0 L295.9,657.3 L296.1,654.6 L296.4,654.6 L296.5,652.1 L296.7,651.2 L296.4,648.2 L297.0,647.7 L296.6,645.4 L297.1,643.3 L297.1,641.3 L297.0,638.9 L297.0,638.1 L297.1,636.3 L297.3,634.2 L297.8,632.6 L297.6,631.1 L297.5,629.5 L297.8,629.5 L297.7,628.7 L298.5,623.1 L299.1,622.3 L299.5,622.0 L299.7,623.6 L300.1,625.0 L300.3,627.0 L300.3,627.4 L300.7,629.6 L300.7,631.8 L301.1,634.0 L301.4,636.4 L301.3,637.4 L301.4,639.3 L301.8,639.7 L301.9,642.1 L302.3,643.7 L304.2,643.5 L305.0,643.1 L305.1,642.0 L305.7,640.6 L306.5,638.4 L307.1,635.8 L307.5,633.5 L307.5,633.6 L307.6,631.7 L308.5,630.1 L308.8,627.2 L308.9,626.7 L309.1,624.9 L309.7,623.1 L309.8,621.7 L311.0,620.2 L311.4,617.8 L312.1,616.9 L312.2,618.9 L313.1,619.2 L313.6,620.3 L313.9,622.3 L314.1,625.2 L314.2,626.8 L314.6,627.9 L314.9,629.0 L315.0,631.6 L315.1,634.1 L315.0,634.9 L315.4,636.6 L315.9,638.8 L315.7,640.2 L315.8,642.9 L316.2,643.7 L316.0,644.9 L316.1,645.5 L316.5,649.2 L317.6,650.4 L317.9,650.3 L319.3,649.7 L320.9,649.3 L321.0,651.1 L321.7,652.3 L321.7,651.9 L321.7,654.9 L322.3,655.9 L322.3,657.9 L322.3,659.9 L322.6,662.2 L322.9,664.1 L323.1,665.2 L323.1,667.4 L323.4,667.9 L323.4,670.5 L323.6,671.7 L323.9,672.4 L323.8,675.2 L323.8,677.8 L324.2,678.5 L324.1,681.0 L324.3,682.0 L324.5,683.8 L324.2,686.1 L324.6,687.2 L324.7,689.9 L325.0,690.2 L325.1,691.8 L325.1,694.3 L325.5,697.0 L325.7,698.6 L325.7,699.3 L326.0,701.1 L326.5,703.1 L326.5,704.9 L326.5,705.9 L326.8,704.9 L327.3,705.4 L327.8,704.6 L327.7,702.1 L328.0,700.9 L328.7,697.6 L328.8,695.7 L329.3,695.5 L329.4,693.5 L329.3,691.3 L329.5,689.7 L329.4,689.5 L329.7,687.7 L329.8,685.2 L329.9,684.1 L329.9,682.9 L330.4,679.9 L330.1,679.4 L330.6,676.4 L330.6,674.7 L331.0,673.6 L330.9,671.0 L331.0,670.2 L331.1,668.1 L331.2,667.6 L331.8,666.3 L331.7,664.6 L331.6,661.8 L332.1,659.8 L331.9,659.7 L332.2,656.9 L332.4,656.5 L332.4,655.0 L332.7,652.8 L333.0,650.3 L333.5,648.9 L333.6,648.8 L333.5,647.5 L333.5,644.5 L333.9,642.9 L334.3,642.0 L334.6,639.7 L334.3,639.1 L334.7,636.4 L334.9,635.0 L335.3,632.5 L335.3,631.2 L336.0,629.3 L335.9,628.8 L336.4,627.8 L336.6,626.6 L336.5,625.6 L336.6,623.0 L337.4,621.4 L338.2,620.5 L339.2,620.7 L339.5,620.2 L340.2,622.1 L340.3,623.4 L340.7,624.4 L341.6,628.2 L341.9,629.5 L341.7,630.8 L342.5,632.1 L342.4,632.9 L342.4,635.1 L343.1,635.8 L343.3,639.0 L343.2,640.7 L343.3,641.5 L343.7,644.6 L343.9,645.0 L344.3,647.4 L344.3,648.1 L344.2,649.4 L344.2,651.7 L344.5,653.8 L344.8,654.8 L345.0,657.1 L344.8,657.9 L345.2,660.5 L344.8,662.3 L345.1,663.5 L345.5,664.8 L345.3,667.1 L345.8,667.8 L345.9,670.6 L345.6,672.0 L346.0,673.8 L346.1,674.8 L346.3,676.4 L346.4,678.4 L346.4,679.8 L346.7,681.8 L347.0,684.2 L346.9,685.4 L347.2,686.3 L347.2,689.3 L347.9,690.5 L347.6,690.5 L347.8,692.1 L348.2,692.7 L348.6,696.2 L349.3,697.1 L349.3,699.9 L350.0,700.3 L350.3,701.4 L350.8,702.4 L351.2,703.7 L352.8,704.7 L353.7,704.7 L355.0,704.2 L356.1,701.3 L357.0,700.3 L358.3,699.8 L359.8,699.3 L360.5,699.7 L362.1,702.8 L362.8,701.9 L364.0,701.7 L364.7,700.2 L365.6,698.1 L367.3,699.1 L368.8,699.0 L370.1,700.5 L371.4,701.1 L372.6,700.4 L373.7,702.1 L374.1,705.1 L374.9,704.7 L375.7,703.7 L376.3,704.0 L377.1,701.0 L378.1,700.2 L378.5,699.0 L379.0,696.7 L379.4,694.9 L379.5,693.1 L380.1,691.8 L381.4,692.5 L382.8,692.9 L384.0,694.1 L385.0,694.6 L386.7,695.5 L387.8,695.1 L388.9,696.6 L390.8,698.1 L391.9,699.5 L392.4,697.6 L393.3,695.9 L394.0,695.3 L394.6,694.1 L396.2,692.4 L397.5,692.7 L398.1,693.7 L398.9,694.8 L398.8,696.1 L399.8,698.5 L400.3,699.7 L401.2,702.0 L401.9,702.7 L402.5,702.7 L403.5,705.1 L405.3,706.5 L406.7,706.0 L407.4,706.8 L408.8,706.1 L410.6,705.5 L410.7,706.1 L411.6,708.0 L412.0,708.2 L413.4,708.3 L414.8,705.8 L415.9,705.1 L417.8,705.2 L419.5,706.0 L421.5,704.4 L423.4,703.2 L425.0,703.9 L426.3,704.0 L427.8,706.1 L428.8,704.7 L430.6,704.6 L431.5,703.7 L431.9,702.2 L432.3,700.7 L432.9,700.3 L433.1,698.2 L433.4,697.9 L433.8,694.3 L433.7,692.6 L434.1,692.0 L434.4,689.9 L434.9,688.8 L435.2,686.7 L435.2,684.3 L435.4,683.6 L435.5,681.7 L435.7,679.7 L436.3,678.2 L436.2,676.3 L436.6,676.0 L437.4,672.3 L438.1,671.0 L438.9,670.9 L440.2,670.5 L441.2,672.7 L442.4,672.9 L443.0,675.3 L443.8,676.6 L443.8,678.2 L444.1,678.3 L444.6,680.8 L445.2,682.5 L445.9,684.2 L446.2,684.5 L446.7,687.5 L447.1,687.3 L447.4,689.6 L447.8,690.5 L448.3,693.0 L448.8,693.3 L449.3,694.7 L449.9,696.4 L450.1,698.2 L451.1,701.5 L451.6,702.0 L452.8,703.9 L454.3,704.8 L455.1,703.2 L456.2,702.8 L456.8,702.4 L457.1,699.1 L458.0,698.4 L458.6,697.1 L458.7,694.6 L459.5,692.2 L459.7,690.1 L460.3,688.9 L460.6,688.0 L461.6,686.6 L462.8,685.0 L464.1,685.6 L464.9,687.0 L465.7,687.7 L466.3,690.5 L466.7,692.0 L467.6,693.1 L467.9,694.6 L468.9,697.5 L469.6,698.8 L470.2,700.4 L470.7,701.4 L472.1,702.5 L472.8,703.3 L473.9,703.6 L475.3,705.0 L476.3,705.9 L477.5,705.8 L479.2,707.5 L480.3,706.7 L481.7,705.0 L482.9,702.9 L483.7,702.4 L484.5,699.9 L484.9,698.7 L486.0,699.2 L487.7,701.0 L488.8,700.7 L490.5,701.2 L492.3,702.8 L493.7,702.5 L495.5,703.7 L497.1,704.9 L498.6,705.1 L500.7,705.2 L501.8,706.3 L503.2,705.8 L504.5,704.2 L505.7,704.3 L507.1,702.9 L508.4,701.6 L509.8,701.0 L510.9,698.9 L511.8,698.9 L513.3,697.9 L513.8,696.8 L514.9,695.0 L515.8,692.8 L517.5,692.3 L518.7,691.5 L520.1,690.5 L520.9,691.3 L521.9,691.8 L523.3,693.3 L524.1,695.1 L525.1,696.6 L525.9,696.2 L527.2,698.2 L528.1,697.7 L528.9,695.2 L530.1,695.4 L530.6,695.9 L531.8,696.1 L532.0,697.4 L533.1,699.1 L533.8,700.3 L534.2,702.6 L534.7,704.3 L534.7,706.3 L535.3,707.6 L536.4,705.5 L536.9,704.2 L538.0,702.2 L539.3,703.2 L540.9,703.8 L541.8,702.6 L542.7,702.5 L543.8,699.9 L545.3,702.7 L546.9,701.9 L547.1,701.6 L547.7,699.8 L548.1,699.1 L547.8,696.6 L548.5,694.9 L549.0,692.4 L549.4,690.7 L550.5,689.2 L551.3,689.1 L553.1,688.4 L553.9,688.4 L554.5,690.3 L555.6,691.2 L555.7,692.6 L556.0,695.4 L556.2,695.4 L556.7,698.4 L557.4,699.2 L558.9,699.6 L560.4,696.9 L561.6,696.5 L562.7,695.1 L563.7,694.9 L565.1,693.0 L566.3,691.0 L567.5,690.6 L568.5,691.6 L569.9,692.8 L570.9,695.3 L571.8,695.6 L572.1,697.8 L573.1,697.8 L574.0,700.3 L575.1,700.5 L575.9,701.7 L577.2,703.2 L578.8,705.3 L579.5,704.9 L581.0,706.0 L582.4,704.2 L583.6,702.1 L585.4,702.7 L586.5,705.1 L587.7,706.2 L588.8,704.2 L589.2,703.0 L590.0,701.7 L590.9,700.4 L591.7,701.2 L591.9,702.6 L593.0,703.8 L593.9,705.9 L595.1,706.5 L596.5,706.9 L598.0,707.1 L599.4,704.7 L600.9,705.1 L602.5,704.4 L604.4,705.2 L605.8,703.6 L606.6,703.2 L607.5,701.8 L607.9,700.0 L608.5,698.9 L609.7,697.5 L611.4,698.5 L611.7,699.5 L612.0,699.3 L612.6,701.8 L613.0,703.9 L613.9,705.4 L615.1,705.4 L617.1,705.2 L618.8,704.0 L620.0,702.2 L621.0,701.1 L621.6,700.8 L622.7,699.4 L624.0,699.6 L625.6,700.5 L626.7,699.8 L627.4,698.7 L628.6,698.0 L629.4,696.1 L630.1,698.2 L631.1,700.9 L631.9,701.7 L632.5,700.1 L632.9,699.8 L633.6,697.7 L634.3,694.8 L634.7,693.7 L635.0,693.4 L635.9,690.9 L636.8,689.0 L637.6,687.7 L638.6,688.4 L640.2,688.9 L641.2,689.5 L642.4,689.0 L643.4,691.2 L644.2,691.4 L644.8,693.9 L645.5,696.2 L646.4,696.4 L646.8,699.3 L647.7,701.0 L648.4,702.8 L648.5,704.4 L649.4,706.0 L649.9,707.9 L650.6,707.6 L651.1,706.8 L651.5,706.4 L651.9,703.1 L652.6,701.2 L652.8,698.8 L653.4,698.1 L654.1,696.1 L654.3,695.7 L654.6,693.3 L655.2,692.3 L655.8,689.5 L656.3,688.2 L657.1,686.9 L658.1,685.0 L659.4,684.8 L661.2,684.2 L661.9,683.8 L663.2,685.5 L664.1,688.8 L664.8,690.1 L665.4,691.0 L665.9,692.8 L666.4,693.0 L667.0,694.9 L667.1,697.0 L667.6,699.0 L667.8,699.5 L668.8,701.5 L669.2,703.8 L670.4,704.9 L671.0,705.0 L672.6,707.3 L674.3,707.1 L676.0,706.9 L677.4,706.7 L678.7,707.2 L679.4,703.8 L679.6,704.2 L680.1,701.3 L680.2,700.9 L680.5,699.3 L680.9,696.8 L681.1,695.0 L681.3,692.6 L681.7,690.8 L682.6,690.7 L683.0,688.7 L684.0,685.8 L684.6,685.2 L685.3,685.3 L686.0,685.3 L686.8,687.6 L687.2,688.9 L687.6,691.9 L688.1,693.1 L688.4,695.0 L688.2,697.5 L688.5,699.1 L688.7,699.1 L689.1,701.8 L689.5,703.5 L689.6,705.1 L689.9,705.0 L690.7,707.4 L691.4,708.1 L692.2,708.8 L693.7,708.7 L695.0,709.3 L696.5,706.9 L696.6,707.3 L696.9,706.5 L697.1,704.2 L697.4,702.3 L697.5,701.7 L698.1,700.0 L698.2,696.9 L698.5,696.5 L698.7,693.2 L698.9,692.4 L699.2,690.6 L699.3,688.0 L699.1,686.6 L699.4,686.1 L699.3,685.2 L699.8,683.5 L700.2,682.0 L700.1,680.2 L700.1,678.8 L700.4,676.2 L700.6,674.2 L700.5,674.0 L700.5,672.1 L700.8,670.0 L700.7,666.8 L700.9,666.5 L701.3,665.0 L701.2,663.1 L701.3,662.2 L701.6,659.9 L701.6,658.3 L701.5,656.1 L701.6,655.6 L701.8,653.7 L702.1,652.0 L702.1,650.6 L702.4,648.5 L702.2,647.7 L702.2,646.1 L702.3,643.1 L702.5,642.3 L702.5,640.1 L703.0,639.0 L702.9,637.2 L702.9,635.4 L702.8,634.8 L703.2,632.1 L703.2,631.0 L703.1,629.4 L703.7,627.9 L703.5,625.0 L703.7,624.3 L703.9,623.2 L703.7,620.0 L704.3,619.2 L704.3,617.8 L704.4,616.2 L704.4,614.7 L704.7,613.4 L704.8,611.2 L704.4,609.3 L704.7,608.6 L704.9,607.1 L705.2,605.7 L704.8,603.8 L705.3,601.2 L705.5,599.2 L705.7,597.8 L705.9,596.4 L705.9,593.9 L706.1,594.0 L705.8,591.7 L706.0,591.0 L706.6,589.8 L706.7,587.7 L707.2,583.8 L707.6,583.0 L708.6,582.5 L708.5,582.6 L709.0,584.3 L709.7,586.3 L710.1,588.1 L710.3,590.0 L710.4,592.1 L710.9,594.2 L711.1,595.0 L711.5,597.0 L711.3,598.6 L711.6,598.4 L712.0,601.6 L712.0,602.3 L712.0,603.4 L712.4,605.6 L712.6,607.7 L712.6,609.6 L712.9,610.6 L712.9,612.7 L713.4,614.7 L713.7,615.5 L713.7,617.6 L713.8,617.9 L714.2,621.3 L714.2,622.9 L714.2,623.8 L714.6,625.5 L714.7,627.3 L714.8,628.1 L715.1,629.9 L715.3,632.6 L715.6,633.5 L715.5,635.0 L716.1,637.0 L716.4,638.4 L716.2,640.5 L716.8,642.4 L716.4,643.4 L716.6,644.2 L717.2,647.1 L717.2,647.6 L717.3,649.2 L717.4,650.6 L718.0,653.7 L717.7,655.2 L718.2,656.6 L718.1,657.8 L718.6,659.7 L718.8,659.9 L718.6,662.1 L718.8,664.8 L719.4,666.1 L719.4,667.7 L719.7,668.2 L719.8,671.3 L719.7,671.8 L720.0,674.2 L720.3,674.3 L720.4,676.8 L720.7,677.1 L721.1,679.0 L720.8,681.1 L721.4,682.5 L721.3,682.7 L721.9,685.5 L721.7,687.4 L722.0,689.0 L722.6,690.2 L722.7,692.9 L722.8,694.3 L722.9,696.0 L723.3,697.0 L724.0,699.0 L723.7,700.3 L724.3,702.0 L724.7,703.5 L725.6,705.7 L725.5,707.6 L726.0,707.1 L726.4,706.0 L727.3,706.0 L727.6,704.0 L727.8,702.0 L728.6,699.6 L729.1,698.6 L728.8,696.2 L728.9,694.5 L729.2,694.2 L729.6,692.7 L729.3,691.2 L729.5,688.9 L729.8,688.9 L729.7,687.6 L730.3,686.0 L730.3,682.9 L730.6,680.9 L730.6,680.5 L730.7,678.7 L730.6,677.1 L730.8,674.4 L731.2,673.8 L731.0,670.9 L731.6,669.2 L731.5,667.5 L732.0,667.2 L731.7,666.1 L732.1,663.1 L731.8,662.3 L732.3,659.9 L732.0,658.3 L732.7,657.5 L732.7,655.9 L732.5,654.7 L732.8,653.2 L733.0,651.1 L733.3,650.1 L733.3,648.5 L733.2,645.6 L733.3,644.2 L733.8,642.5 L733.5,640.5 L733.9,640.7 L733.9,637.5 L734.2,637.3 L734.1,635.0 L734.3,633.6 L734.6,632.9 L734.5,631.4 L734.8,628.9 L735.1,627.0 L735.0,626.8 L735.3,625.2 L735.3,623.2 L735.6,620.9 L735.8,620.5 L735.6,618.5 L736.1,615.8 L735.8,615.9 L735.8,613.9 L736.1,611.4 L736.1,610.0 L736.4,609.1 L736.8,607.4 L736.5,605.7 L737.1,603.4 L737.1,601.8 L737.0,600.7 L737.5,599.0 L737.2,597.4 L737.3,596.1 L737.7,593.6 L737.9,592.0 L737.9,590.8 L738.2,588.3 L738.5,588.1 L738.1,586.6 L738.3,584.9 L738.4,583.5 L738.9,581.4 L738.9,580.4 L739.0,577.6 L739.3,576.9 L739.3,574.9 L739.3,572.3 L739.7,570.3 L739.9,569.6 L739.7,567.1 L740.2,565.7 L739.8,564.7 L740.1,562.5 L740.6,561.7 L740.7,558.7 L740.5,557.6 L741.1,556.4 L740.8,555.4 L741.4,553.5 L741.4,552.1 L741.7,548.7 L742.0,547.1 L742.4,546.8 L742.4,544.8 L742.8,544.0 L742.8,542.4 L744.4,542.7 L745.9,542.2 L746.4,540.4 L747.1,538.0 L747.3,537.5 L747.9,536.4 L748.9,535.1 L749.9,533.2 L750.5,532.9 L750.8,530.1 L751.6,528.8 L752.0,525.9 L753.1,526.2 L753.5,525.1 L753.9,526.5 L755.0,528.9 L755.2,530.2 L755.4,531.6 L755.5,534.1 L755.6,534.7 L755.7,536.3 L756.2,538.5 L756.1,539.9 L756.2,542.8 L756.6,544.3 L756.8,546.2 L756.4,546.4 L756.7,549.1 L756.8,550.7 L757.0,551.1 L757.3,554.2 L757.4,554.3 L757.8,556.0 L757.8,558.0 L758.1,559.7 L757.9,560.3 L758.4,561.8 L758.2,563.8 L758.7,565.0 L758.5,567.0 L758.8,570.7 L758.9,571.2 L758.9,572.0 L759.0,574.2 L759.4,575.7 L759.1,577.4 L759.2,577.7 L759.4,578.8 L759.5,582.2 L759.4,583.9 L759.7,584.1 L759.9,585.5 L759.8,588.6 L759.9,590.3 L760.0,592.1 L760.4,593.4 L760.4,594.4 L760.3,596.7 L760.6,599.0 L760.6,599.1 L760.8,601.6 L761.2,603.3 L761.1,603.8 L761.5,605.5 L761.7,608.1 L761.9,609.4 L761.8,611.4 L761.8,613.4 L762.2,614.7 L762.1,615.5 L762.3,617.1 L762.6,619.9 L762.8,620.8 L762.9,622.0 L762.9,624.1 L763.3,624.7 L763.6,625.9 L763.9,628.4 L764.0,629.8 L763.8,631.5 L764.0,633.4 L764.1,635.3 L764.7,636.7 L764.6,638.6 L764.9,640.9 L765.4,641.4 L765.5,642.7 L765.7,645.1 L765.4,646.7 L765.8,648.3 L765.8,649.2 L766.5,651.3 L766.4,653.0 L766.4,653.5 L766.7,655.5 L767.0,657.6 L766.9,658.7 L767.6,661.3 L767.7,661.6 L767.9,663.3 L767.8,665.3 L768.5,667.1 L768.3,668.3 L768.6,671.2 L768.7,672.1 L768.8,673.1 L769.0,676.0 L769.6,676.8 L769.6,678.1 L769.9,679.2 L770.0,682.0 L770.3,684.5 L770.6,684.3 L770.9,687.8 L771.0,688.7 L771.5,691.3 L771.5,692.6 L771.8,694.1 L772.5,695.4 L772.3,696.0 L772.8,698.5 L773.3,699.5 L774.0,702.3 L774.6,703.6 L774.9,705.3 L775.1,704.8 L776.4,707.6 L777.3,709.2 L777.9,708.2 L779.1,708.2 L779.9,707.8 L780.2,705.0 L781.0,703.2 L781.7,703.2 L782.2,700.7 L782.8,700.0 L783.4,697.1 L783.5,695.0 L783.9,694.7 L784.2,691.3 L784.3,689.2 L784.7,687.7 L784.9,686.2 L784.8,684.3 L785.2,684.1 L785.2,682.4 L785.3,684.1 L785.8,684.7 L786.0,688.0 L786.0,688.6 L786.5,691.3 L786.8,694.0 L786.7,696.2 L786.6,697.7 L786.8,699.1 L787.1,699.5 L787.5,699.7 L787.8,698.3 L787.9,696.7 L788.0,695.7 L788.2,694.6 L788.2,692.8 L788.0,690.9 L788.4,688.0 L788.4,685.6 L788.7,683.7 L788.5,681.8 L788.8,681.4 L788.9,679.4 L789.5,678.7 L790.0,675.8 L790.5,674.8 L791.2,673.0 L791.9,671.9 L792.0,669.3 L792.4,668.6 L792.4,667.2 L792.7,666.7 L792.7,663.7 L793.1,663.1 L793.0,661.3 L793.2,659.1 L793.7,657.0 L793.6,656.0 L794.1,654.6 L794.1,651.8 L794.4,650.6 L794.5,649.0 L794.2,648.5 L794.3,646.2 L794.7,644.5 L794.6,641.9 L794.8,640.3 L794.9,639.3 L794.7,637.3 L795.1,635.4 L795.5,633.7 L795.0,631.4 L795.1,630.5 L795.2,628.8 L795.8,626.7 L795.8,625.7 L795.6,623.9 L795.6,622.4 L795.8,620.4 L796.1,619.5 L796.1,617.0 L796.3,616.5 L796.9,613.1 L796.5,611.4 L797.2,609.0 L797.5,607.5 L797.2,605.1 L797.4,604.6 L797.6,603.0 L798.1,602.2 L797.9,600.6 L798.5,600.2 L798.6,601.1 L799.3,601.4 L799.5,602.9 L799.8,604.4 L799.8,606.7 L800.4,608.5 L800.8,611.8 L800.8,613.0 L800.9,614.0 L801.4,615.2 L801.3,615.9 L801.3,619.0 L801.6,620.2 L802.0,621.8 L802.1,623.8 L801.8,624.9 L801.9,626.6 L802.5,628.5 L802.7,629.9 L802.8,630.9 L802.6,632.3 L802.7,635.4 L802.8,637.1 L803.0,638.9 L803.6,638.9 L803.5,641.7 L803.5,641.9 L803.7,644.9 L803.8,645.4 L804.0,646.7 L803.9,649.0 L804.2,650.7 L804.2,653.4 L804.2,653.5 L804.7,655.4 L804.9,658.1 L804.9,659.3 L804.9,661.1 L805.4,662.5 L805.1,664.6 L805.0,665.8 L805.7,666.2 L805.7,667.5 L805.6,670.6 L805.6,670.9 L805.8,672.6 L806.0,676.0 L806.3,676.8 L806.6,678.9 L806.8,680.0 L806.7,682.8 L806.6,684.5 L806.8,685.1 L807.0,686.0 L807.1,688.7 L807.5,689.9 L807.2,691.3 L807.6,692.7 L807.6,692.8 L808.0,695.4 L808.5,698.8 L808.3,700.6 L808.8,701.7 L809.1,704.1 L809.2,705.5 L810.0,705.4 L810.4,706.7 L810.8,706.3 L811.5,705.3 L812.2,702.5 L812.7,699.2 L812.6,699.0 L813.1,696.9 L813.4,696.5 L813.5,694.7 L813.4,693.3 L813.6,691.4 L814.1,689.7 L814.3,688.6 L814.2,685.9 L814.3,684.3 L814.3,683.2 L814.6,679.9 L814.7,678.7 L815.0,677.6 L815.2,675.1 L815.5,674.1 L815.7,672.3 L815.9,671.8 L816.0,669.7 L816.2,668.1 L816.4,666.6 L816.9,664.8 L816.9,661.9 L817.1,661.6 L817.0,660.2 L817.6,658.9 L817.5,655.8 L817.6,653.9 L817.9,654.3 L818.0,651.8 L818.1,650.7 L818.4,648.2 L818.9,647.4 L818.9,645.9 L818.8,644.4 L819.3,642.7 L819.3,640.8 L819.4,639.3 L819.8,638.0 L820.0,636.5 L820.2,635.7 L820.2,633.4 L820.7,632.1 L820.5,629.3 L821.0,628.6 L820.9,627.5 L821.1,624.9 L821.2,623.3 L821.5,623.4 L821.6,621.1 L821.4,620.3 L822.0,618.6 L822.0,615.5 L821.9,614.7 L822.2,612.5 L822.4,611.4 L822.5,610.4 L822.3,607.2 L822.6,605.1 L822.4,603.0 L823.0,603.2 L822.8,601.1 L823.0,599.5 L822.9,598.2 L823.0,597.5 L823.2,594.9 L823.0,594.8 L823.4,593.6 L823.6,591.6 L823.4,590.2 L823.6,588.9 L823.6,587.9 L824.1,586.3 L823.8,583.1 L823.9,582.6 L824.1,579.4 L824.0,579.6 L824.2,576.0 L824.3,575.6 L824.6,572.4 L824.6,570.4 L824.6,569.3 L824.3,566.5 L824.7,565.4 L825.0,563.3 L824.7,562.8 L824.8,561.2 L825.1,560.2 L824.9,558.0 L825.1,557.0 L825.1,555.3 L825.2,553.3 L825.3,552.1 L825.1,549.9 L825.4,549.4 L825.3,547.3 L825.0,546.1 L825.4,543.8 L825.6,541.9 L825.7,542.0 L825.3,540.4 L825.8,537.6 L825.5,536.8 L825.4,535.1 L825.4,533.1 L825.4,531.0 L825.9,529.5 L825.7,527.2 L825.6,525.6 L825.7,523.8 L825.7,522.0 L825.9,520.1 L826.2,518.8 L826.3,517.7 L826.3,516.3 L826.1,514.5 L825.9,513.2 L826.4,511.7 L826.2,508.5 L826.5,506.9 L826.6,505.6 L826.7,503.5 L826.4,503.4 L826.3,501.7 L826.5,499.8 L826.5,497.5 L826.9,496.8 L826.5,493.8 L826.6,492.3 L826.7,491.3 L826.8,490.4 L826.7,487.8 L827.1,486.7 L827.1,484.7 L826.9,482.3 L827.4,480.0 L827.3,480.1 L827.5,477.0 L827.6,475.9 L827.2,474.9 L827.5,473.5 L827.3,471.6 L827.5,468.3 L827.4,468.1 L827.9,466.4 L827.8,464.2 L827.7,462.4 L827.6,460.3 L827.7,460.3 L828.2,457.4 L828.3,455.6 L828.2,453.9 L828.2,454.1 L828.3,452.0 L828.3,450.7 L828.3,449.3 L828.5,447.5 L828.2,446.1 L828.7,443.2 L828.5,443.0 L828.7,441.8 L828.5,439.7 L828.8,438.8 L828.5,435.0 L829.0,433.2 L828.6,432.0 L828.7,431.2 L828.7,427.7 L829.1,426.5 L829.3,425.6 L828.9,424.0 L829.0,421.1 L829.2,419.0 L829.2,418.5 L829.4,415.9 L829.8,414.4 L829.4,412.2 L829.6,410.5 L829.9,409.5 L830.0,408.1 L829.7,407.7 L830.2,405.4 L829.9,404.1 L830.2,402.8 L830.0,401.4 L830.6,400.3 L830.5,397.8 L830.6,397.5 L830.4,396.7 L830.7,392.6 L831.0,391.9 L831.4,388.3 L831.4,387.4 L832.0,384.5 L831.9,382.2 L832.3,381.7 L832.3,380.0 L832.7,378.4 L833.1,377.2 L833.0,376.9 L833.1,374.8 L833.4,375.3 L833.9,375.9 L834.0,374.6 L834.2,376.0 L834.9,377.5 L835.0,379.2 L835.1,382.2 L835.2,384.3 L836.0,386.6 L836.0,390.2 L836.0,390.4 L836.4,391.2 L836.1,393.3 L836.1,393.6 L836.6,396.4 L836.5,398.0 L836.8,398.9 L836.6,400.3 L836.6,400.9 L836.6,401.7 L837.1,404.7 L837.2,405.5 L837.1,407.5 L837.0,408.8 L836.9,411.2 L837.4,411.3 L837.5,414.4 L837.1,416.8 L837.8,417.7 L837.5,418.6 L837.8,422.0 L837.6,422.7 L837.8,426.2 L837.8,427.9 L838.1,429.3 L838.1,430.5 L838.3,432.4 L838.4,433.6 L838.2,435.0 L838.2,437.0 L838.2,436.9 L838.5,438.6 L838.2,440.4 L838.5,441.6 L838.8,443.2 L838.9,444.7 L838.4,447.3 L838.7,447.2 L838.9,450.3 L838.8,451.6 L839.2,452.4 L839.0,455.4 L838.9,456.7 L838.9,458.0 L839.2,459.8 L839.2,461.4 L839.0,463.3 L839.4,464.6 L839.6,465.9 L839.7,468.0 L839.4,468.5 L839.7,471.8 L839.6,472.3 L839.8,475.3 L839.8,475.2 L839.8,477.7 L839.7,479.7 L840.0,481.0 L840.1,482.1 L840.3,484.3 L840.0,487.0 L840.2,488.9 L840.4,490.2 L840.6,491.7 L840.1,493.1 L840.4,494.8 L840.8,497.3 L840.7,498.7 L840.3,499.6 L840.6,500.7 L841.0,501.9 L841.0,505.4 L840.7,505.1 L840.8,506.8 L841.2,509.3 L840.8,511.3 L841.0,512.7 L840.9,515.2 L841.4,516.7 L841.4,518.5 L841.1,519.8 L841.2,520.4 L841.5,522.7 L841.2,524.4 L841.4,526.3 L841.6,528.3 L841.4,529.2 L841.4,532.1 L841.9,532.4 L841.6,534.7 L841.5,536.6 L841.9,537.5 L841.7,540.1 L842.2,540.7 L842.1,543.9 L842.1,545.8 L841.9,545.9 L842.4,548.1 L842.3,549.8 L842.2,550.5 L842.0,552.2 L842.5,553.8 L842.3,555.5 L842.5,558.1 L842.6,559.8 L842.6,560.3 L842.5,563.3 L842.5,564.6 L842.6,565.0 L842.9,565.9 L842.8,568.8 L842.9,568.8 L842.8,570.7 L842.9,571.5 L842.8,573.7 L842.8,574.6 L843.1,577.3 L843.0,579.1 L843.2,581.3 L843.3,583.9 L843.5,584.2 L843.2,586.8 L843.1,588.0 L843.2,590.0 L843.3,591.0 L843.6,594.0 L843.3,594.4 L843.4,597.0 L843.3,598.5 L843.9,599.1 L843.5,601.3 L843.9,601.9 L843.5,603.8 L843.7,604.7 L844.0,606.0 L844.0,607.8 L843.7,609.4 L843.9,610.8 L844.1,612.4 L844.0,613.3 L844.2,616.1 L844.4,616.3 L844.3,618.0 L844.4,618.9 L844.5,621.3 L844.6,624.0 L844.3,625.6 L844.9,626.0 L844.7,629.0 L844.5,630.3 L844.7,631.6 L844.7,633.1 L845.2,634.5 L845.0,635.9 L845.0,637.7 L845.1,639.7 L845.3,641.8 L845.4,642.2 L845.4,645.7 L845.7,646.6 L845.7,647.6 L845.4,648.9 L846.0,650.8 L845.8,652.1 L845.7,654.1 L845.8,656.1 L846.2,656.2 L846.0,657.5 L846.1,659.4 L846.4,661.4 L846.3,664.3 L846.6,666.2 L846.6,667.3 L847.2,668.5 L847.2,670.0 L847.3,671.5 L847.5,674.7 L847.3,675.0 L847.7,676.7 L847.8,678.4 L848.2,680.4 L848.3,681.7 L848.2,683.7 L848.5,685.0 L848.4,686.1 L848.8,686.6 L848.5,688.7 L848.8,690.2 L848.9,692.3 L849.2,693.1 L849.6,695.8 L849.8,698.2 L850.6,700.0 L850.5,702.1 L851.2,702.5 L851.5,704.2 L851.2,704.0 L851.6,706.7 L852.8,707.2 L854.3,703.6 L854.5,701.2 L854.8,699.6 L854.7,698.9 L855.2,697.6 L855.1,695.5 L855.3,694.4 L855.7,691.9 L856.2,691.3 L856.0,689.5 L856.7,686.7 L856.3,685.1 L856.8,684.5 L857.0,681.5 L857.2,681.6 L857.4,678.5 L857.5,677.7 L857.7,675.4 L857.8,673.8 L858.1,671.5 L858.3,671.3 L858.3,668.2 L858.3,666.6 L858.7,665.3 L858.6,663.5 L858.8,661.5 L859.0,660.9 L859.2,658.6 L859.1,657.2 L859.7,655.9 L859.7,653.3 L860.2,651.1 L860.4,650.3 L860.4,648.8 L860.5,647.3 L860.9,645.4 L861.1,645.7 L861.6,643.8 L862.4,641.6 L863.0,639.0 L863.7,639.2 L864.0,640.2 L864.7,641.6 L864.9,643.8 L865.8,645.3 L866.1,648.2 L866.2,649.8 L866.4,650.2 L866.7,652.6 L866.8,653.3 L866.9,655.4 L867.6,656.6 L867.3,657.4 L867.5,659.3 L868.2,660.3 L867.9,662.6 L868.4,663.9 L868.6,666.7 L868.8,667.5 L869.2,669.7 L869.2,671.6 L869.6,673.0 L869.7,673.6 L870.1,676.4 L870.2,677.7 L870.4,679.6 L870.5,680.7 L871.1,683.2 L871.2,682.9 L871.3,684.3 L871.8,686.8 L871.9,687.9 L872.1,690.1 L873.0,691.4 L873.5,693.0 L873.7,695.0 L874.0,695.8 L874.8,696.8 L876.0,696.8 L876.6,695.1 L877.8,693.3 L879.4,691.5 L881.3,691.7 L882.5,691.8 L882.9,693.4 L884.0,695.7 L884.7,697.8 L885.4,699.7 L886.5,700.3 L886.5,698.9 L887.0,696.9 L887.5,695.7 L887.8,694.1 L888.1,693.7 L888.0,690.4 L888.7,688.7 L888.6,687.5 L889.3,686.6 L889.6,683.4 L889.8,681.4 L890.2,681.1 L890.3,678.2 L890.9,678.3 L891.7,675.2 L892.3,675.6 L892.6,672.9 L893.6,670.8 L893.6,670.2 L893.9,668.3 L894.1,667.8 L894.3,664.7 L894.6,663.4 L895.1,661.5 L894.8,660.1 L895.2,657.6 L895.6,656.6 L896.1,655.1 L896.3,653.4 L897.4,652.3 L898.2,651.1 L898.8,650.7 L899.2,650.9 L899.9,651.2 L900.4,653.8 L900.9,655.7 L900.9,658.1 L901.4,660.0 L902.3,661.2 L902.3,663.1 L902.5,665.1 L902.7,666.7 L903.1,668.3 L903.7,669.3 L903.9,671.3 L904.6,671.6 L904.7,673.0 L905.3,674.5 L905.5,676.3 L906.1,677.7 L906.6,680.2 L906.6,681.9 L907.5,682.8 L907.8,683.3 L908.0,684.8 L908.9,687.2 L908.8,687.5 L909.5,689.5 L909.7,690.2 L910.1,692.0 L910.6,693.3 L911.3,695.9 L911.7,696.6 L911.9,697.7 L912.9,699.5 L913.2,701.2 L913.5,703.0 L914.7,703.2 L915.7,706.0 L916.6,705.9 L918.0,707.1 L919.3,707.4 L920.6,707.6 L921.5,708.3 L922.8,709.7 L924.4,711.1 L925.5,712.3 L926.1,713.0 L927.0,710.9 L927.9,708.1 L928.6,706.9 L930.1,707.1 L931.4,706.1 L932.2,705.2 L933.9,705.6 L935.4,703.3 L936.7,703.9 L937.8,702.9 L939.6,703.8 L940.7,703.4 L942.0,700.5 L943.2,699.0 L944.2,701.0 L944.9,703.4 L945.7,704.6 L946.9,705.9 L948.5,708.4 L949.5,708.2 L950.9,707.7 L951.6,706.3 L952.6,705.0 L953.9,704.1 L955.7,704.9 L957.2,706.0 L959.5,707.0 L960.5,707.2" stroke="#0f6cc4" stroke-width="5"/>
<path class="crv" d="M80.8,798.9 L81.4,799.9 L82.2,800.1 L82.6,803.3 L83.8,803.3 L85.3,804.9 L86.4,805.6 L87.6,805.4 L89.1,807.3 L90.6,807.3 L92.6,806.0 L94.0,807.4 L95.3,806.4 L97.3,807.5 L98.9,808.6 L100.6,808.9 L102.0,808.7 L103.6,809.0 L105.3,807.1 L106.5,807.1 L108.5,807.1 L109.6,806.2 L110.9,805.8 L112.4,805.7 L114.1,806.1 L115.7,805.8 L117.5,805.7 L119.1,803.7 L121.0,805.1 L122.8,804.0 L124.2,802.8 L125.9,803.2 L127.2,801.6 L129.3,803.2 L130.5,802.4 L132.3,800.7 L133.7,801.9 L135.9,800.3 L137.5,800.5 L139.2,801.4 L141.0,803.2 L142.5,803.6 L144.0,801.9 L145.8,802.2 L147.2,803.4 L149.2,803.3 L150.5,805.3 L152.4,806.0 L154.2,805.2 L155.3,806.0 L156.7,806.7 L158.1,807.3 L159.8,807.5 L160.9,808.3 L162.3,807.6 L164.2,808.0 L165.4,806.8 L166.8,807.8 L168.1,807.5 L170.1,806.0 L171.7,806.6 L173.4,806.1 L175.1,806.8 L176.3,805.3 L178.4,807.4 L179.9,806.5 L182.0,806.3 L183.6,806.5 L185.4,807.3 L187.0,807.0 L188.8,806.4 L190.0,808.0 L191.9,806.9 L193.7,806.9 L194.7,807.2 L196.3,806.3 L197.4,806.6 L199.2,806.6 L200.6,805.6 L201.7,806.3 L203.6,805.6 L204.8,804.7 L206.6,804.9 L208.4,806.5 L209.8,805.6 L212.0,806.6 L213.7,806.1 L214.8,805.8 L216.8,805.3 L218.0,804.8 L219.4,803.9 L221.2,802.4 L222.2,803.5 L224.3,803.2 L225.7,802.7 L227.8,800.8 L229.4,801.9 L231.1,801.2 L232.4,801.0 L234.0,800.9 L235.8,802.2 L237.4,802.7 L238.9,805.1 L240.3,806.4 L242.0,806.4 L243.0,807.4 L244.6,806.9 L246.4,807.6 L247.9,807.9 L249.5,805.7 L251.1,806.3 L252.5,806.2 L253.8,805.3 L255.4,807.1 L256.6,807.5 L258.7,807.9 L260.2,806.4 L261.7,808.5 L262.9,807.3 L264.8,807.9 L266.6,807.8 L268.5,806.6 L269.7,806.7 L271.2,806.2 L273.2,807.5 L274.1,806.1 L275.8,805.1 L277.2,805.2 L278.8,804.0 L279.8,803.4 L281.5,803.3 L283.4,802.2 L284.5,801.2 L286.1,801.7 L287.7,801.0 L289.6,802.2 L290.9,802.9 L292.5,804.2 L294.1,803.5 L295.8,801.2 L297.5,801.7 L298.5,802.0 L300.0,804.5 L301.5,805.0 L302.8,806.9 L304.0,806.5 L305.6,806.9 L307.6,806.4 L308.9,804.9 L310.0,803.3 L310.8,802.2 L312.2,800.5 L314.0,800.4 L315.1,800.9 L317.1,801.8 L318.1,803.9 L319.8,804.6 L321.7,805.2 L323.4,805.4 L324.9,804.9 L326.3,806.4 L327.6,805.4 L328.8,806.5 L329.4,803.9 L330.7,803.5 L331.4,800.6 L332.3,800.3 L333.8,798.4 L334.7,797.0 L335.8,795.9 L336.7,795.5 L338.7,795.4 L339.9,795.8 L341.4,798.6 L342.3,799.0 L343.2,800.6 L344.5,800.9 L345.0,803.7 L346.6,804.5 L347.5,806.0 L348.7,806.0 L350.2,807.6 L351.8,807.5 L353.6,809.5 L354.9,809.3 L356.4,809.5 L358.1,807.8 L359.3,806.8 L361.0,807.0 L362.3,806.7 L363.9,807.5 L365.2,808.1 L366.9,807.3 L368.4,808.0 L370.2,807.6 L371.4,808.2 L373.2,807.8 L374.6,809.3 L376.0,808.0 L377.3,809.2 L378.9,809.8 L380.8,808.0 L381.9,807.6 L383.3,808.0 L385.2,807.9 L386.5,807.2 L388.2,805.5 L390.1,804.2 L391.0,805.7 L392.4,805.4 L393.6,807.3 L394.7,807.6 L396.2,808.5 L397.6,809.3 L399.7,809.4 L401.0,809.1 L402.4,810.4 L403.6,810.4 L405.4,807.7 L406.7,807.2 L407.8,807.2 L408.7,806.7 L410.2,807.7 L411.2,809.0 L412.9,810.3 L413.8,809.6 L415.0,809.4 L416.3,808.6 L417.4,805.9 L418.9,805.8 L419.9,806.2 L421.8,804.7 L423.6,805.2 L424.7,806.7 L426.4,806.4 L428.1,805.8 L429.4,804.5 L430.8,804.9 L432.7,803.9 L434.4,802.8 L435.7,802.3 L437.7,801.0 L439.2,800.7 L441.0,800.3 L442.4,800.3 L443.8,801.6 L445.0,802.7 L446.1,802.5 L447.2,802.9 L448.9,805.1 L449.5,804.6 L451.2,806.0 L452.7,805.9 L453.9,804.3 L455.4,803.9 L457.0,804.3 L458.4,803.3 L460.2,802.8 L461.8,804.9 L463.4,804.3 L464.6,805.3 L466.1,806.8 L467.6,805.9 L469.2,806.7 L470.6,807.8 L471.7,808.3 L473.6,808.0 L475.0,807.9 L476.4,807.7 L477.9,807.0 L479.9,806.1 L481.3,806.5 L482.8,804.2 L484.7,804.6 L486.0,804.2 L487.4,804.2 L489.0,807.2 L490.5,808.1 L492.6,807.2 L494.2,808.4 L495.8,808.8 L497.4,807.9 L499.2,809.2 L501.0,808.0 L502.7,808.0 L503.9,806.9 L505.6,807.1 L507.3,807.6 L509.3,807.5 L510.8,807.5 L512.4,806.9 L514.3,806.6 L515.6,807.5 L517.6,806.1 L519.0,806.2 L520.8,805.2 L522.2,804.9 L524.3,804.3 L525.8,803.9 L527.3,803.2 L529.2,802.7 L530.6,802.0 L532.2,802.6 L533.5,801.4 L535.4,802.7 L536.8,802.6 L537.8,804.4 L538.6,806.6 L539.8,805.4 L541.7,806.5 L543.5,807.6 L544.8,807.0 L546.4,806.7 L547.6,805.8 L548.9,804.1 L549.8,803.3 L551.7,804.3 L553.1,803.8 L554.9,806.6 L556.4,805.2 L557.6,806.0 L559.1,806.4 L560.7,807.8 L562.7,806.5 L564.4,806.4 L566.0,806.7 L567.8,804.5 L568.8,805.9 L570.7,805.1 L571.7,807.3 L573.1,806.8 L574.9,807.9 L576.7,807.1 L578.1,808.7 L579.7,808.6 L581.3,808.5 L582.4,808.3 L584.0,808.8 L585.1,807.6 L586.7,807.7 L587.9,806.3 L588.9,804.9 L590.1,804.0 L591.7,805.0 L593.4,803.4 L594.8,805.3 L596.5,805.8 L598.2,805.5 L599.8,806.9 L601.2,806.7 L602.6,807.1 L604.8,806.7 L606.4,807.0 L607.9,808.3 L609.8,807.0 L611.4,808.3 L613.4,806.8 L615.0,808.7 L616.7,807.6 L618.5,807.9 L620.1,807.6 L621.9,806.0 L623.2,805.3 L625.1,804.9 L626.0,806.0 L627.5,804.8 L628.7,802.5 L630.0,801.9 L631.4,800.3 L632.8,799.6 L633.7,798.0 L635.0,796.1 L637.1,796.4 L639.0,795.7 L639.7,797.1 L640.7,797.5 L641.4,799.9 L642.2,801.4 L643.8,802.5 L645.0,804.4 L646.0,805.1 L647.8,805.9 L649.1,805.6 L650.6,805.4 L652.8,806.0 L654.2,805.8 L655.6,804.7 L657.2,802.7 L659.1,803.4 L660.7,802.7 L662.1,803.3 L663.8,805.3 L664.9,806.0 L666.4,804.5 L668.4,805.3 L669.8,806.3 L671.0,806.8 L673.0,806.5 L674.7,807.5 L676.5,807.0 L677.3,808.0 L678.7,808.6 L679.8,810.6 L681.6,810.5 L683.4,809.1 L684.9,806.8 L686.3,807.4 L688.0,807.8 L689.5,808.8 L691.0,808.1 L692.8,808.7 L693.8,806.9 L695.4,805.6 L696.1,805.5 L697.5,803.1 L697.8,801.9 L698.9,801.0 L699.5,800.1 L700.1,796.8 L700.0,795.0 L700.7,793.9 L701.0,792.6 L701.5,790.5 L702.1,790.0 L702.7,787.1 L702.9,785.8 L703.7,784.7 L704.4,783.4 L704.4,780.5 L705.2,780.6 L705.9,778.4 L706.7,775.2 L707.3,773.3 L708.4,774.7 L709.3,774.3 L709.9,776.8 L710.7,778.1 L711.2,780.0 L711.6,780.5 L712.4,783.7 L712.9,783.8 L713.3,785.4 L714.1,786.9 L714.8,787.8 L714.9,790.0 L715.5,792.2 L716.3,793.9 L716.6,793.4 L717.1,796.1 L717.6,796.9 L718.3,799.7 L718.5,800.4 L719.7,801.6 L721.0,804.0 L721.9,803.7 L723.1,804.7 L723.7,807.0 L725.1,806.9 L726.9,808.9 L727.9,807.3 L728.7,805.7 L729.6,806.2 L730.5,802.8 L731.4,800.7 L732.5,800.5 L733.5,798.8 L734.3,795.8 L734.7,796.4 L735.3,793.4 L736.3,792.0 L737.1,790.1 L737.6,790.8 L738.2,789.3 L739.0,788.4 L740.1,786.6 L741.2,784.1 L743.2,783.5 L744.3,784.5 L746.2,783.1 L747.7,784.9 L748.7,784.6 L750.6,786.8 L752.4,785.5 L753.2,786.4 L754.3,789.4 L755.1,789.2 L756.6,792.4 L757.4,791.9 L757.7,794.7 L758.5,795.5 L759.1,795.3 L759.9,798.0 L761.1,799.0 L761.8,800.3 L762.7,801.5 L764.0,801.8 L765.0,804.4 L766.4,803.5 L767.7,805.7 L768.6,805.0 L770.1,805.0 L772.2,806.1 L773.8,805.7 L774.7,807.8 L776.9,809.1 L778.5,809.1 L780.2,808.6 L781.2,808.9 L782.1,808.3 L783.5,807.1 L784.9,805.9 L786.3,806.2 L788.3,806.8 L789.9,806.6 L791.1,806.8 L792.3,804.7 L794.1,805.3 L795.1,804.3 L796.2,804.0 L797.4,801.6 L798.5,801.0 L799.8,799.6 L800.5,800.6 L801.2,802.0 L802.7,804.4 L803.2,806.1 L804.3,807.8 L805.4,806.9 L806.9,808.3 L808.5,807.5 L810.1,805.2 L810.7,804.5 L811.4,802.9 L812.3,802.6 L813.0,799.5 L813.6,798.5 L814.6,796.8 L815.1,795.9 L816.1,793.9 L817.1,794.6 L818.0,792.9 L819.0,792.0 L820.4,789.8 L821.5,788.0 L822.9,787.5 L823.8,787.2 L824.4,784.4 L825.4,784.0 L825.5,781.3 L826.3,779.8 L827.2,778.5 L827.4,777.3 L827.9,775.9 L828.4,774.8 L828.6,771.8 L829.4,771.3 L829.1,769.0 L829.9,768.6 L829.9,765.0 L830.5,764.8 L832.2,763.5 L833.2,762.3 L834.8,763.7 L836.1,764.8 L836.4,766.4 L836.8,768.4 L837.5,769.1 L837.6,770.0 L838.2,773.2 L838.7,773.7 L839.4,776.2 L839.5,776.8 L839.8,779.9 L840.1,780.7 L840.8,781.9 L841.3,784.7 L841.8,785.8 L841.9,785.9 L842.5,788.0 L842.8,790.8 L843.3,792.3 L844.4,792.5 L844.9,794.8 L845.0,796.1 L845.5,798.4 L846.3,800.8 L847.2,800.4 L847.4,802.3 L848.6,803.9 L849.9,805.9 L851.2,805.4 L852.2,807.5 L853.5,808.2 L854.6,808.2 L855.2,808.2 L855.5,807.1 L856.2,805.0 L857.0,803.3 L857.5,800.3 L858.2,800.6 L858.5,798.4 L858.9,797.5 L859.6,794.4 L860.2,794.7 L860.4,793.6 L861.4,790.1 L862.5,789.4 L863.5,789.7 L864.0,790.4 L865.5,791.9 L866.3,794.6 L866.9,794.9 L867.7,796.9 L868.2,796.7 L869.3,799.0 L869.9,800.9 L871.4,801.4 L872.7,803.2 L873.9,803.1 L874.7,804.9 L876.7,805.3 L878.1,806.6 L879.8,807.4 L881.4,806.8 L882.6,807.0 L884.3,807.1 L885.7,806.1 L887.3,806.1 L889.1,805.6 L890.3,806.8 L892.0,807.2 L893.4,806.6 L895.0,808.4 L897.0,807.1 L898.3,805.3 L899.9,805.1 L901.8,804.2 L903.6,804.6 L904.9,803.7 L906.6,803.1 L908.1,802.6 L909.3,801.4 L911.1,803.5 L912.3,805.2 L913.5,805.9 L915.4,805.3 L916.7,807.1 L918.2,806.7 L919.8,806.7 L921.3,806.5 L922.8,807.6 L924.6,807.1 L926.1,807.1 L927.7,807.0 L929.0,807.9 L930.4,806.8 L931.8,808.3 L933.3,808.6 L935.0,809.0 L936.8,808.4 L938.1,806.7 L939.8,808.0 L941.5,806.6 L942.3,808.1 L944.2,806.4 L945.2,805.0 L946.3,805.9 L947.9,805.1 L949.3,806.7 L951.6,806.2 L952.7,806.3 L954.9,807.0 L956.3,808.6 L957.8,807.6 L959.2,807.8 L959.9,809.9" stroke="#13a84e" stroke-width="4.7"/>
<path class="crv" d="M82.8,905.4 L84.1,904.8 L85.5,904.4 L87.8,904.5 L89.3,902.6 L90.8,902.3 L92.3,902.1 L93.5,904.7 L95.1,905.7 L96.4,905.7 L97.4,907.8 L99.1,909.2 L100.7,908.4 L102.1,910.4 L103.8,909.8 L105.3,909.7 L107.3,911.3 L108.8,909.8 L110.9,910.0 L112.8,910.3 L114.1,909.0 L115.8,908.6 L117.3,907.9 L119.4,906.9 L120.6,907.7 L122.4,907.1 L124.0,906.2 L125.9,905.5 L127.1,905.1 L128.7,904.9 L129.9,905.5 L131.2,904.6 L133.3,902.7 L134.3,901.9 L136.3,901.9 L137.3,900.9 L138.6,901.6 L139.6,903.0 L141.4,904.6 L142.7,905.5 L143.5,904.5 L145.6,906.1 L146.8,906.8 L148.5,906.9 L149.9,905.6 L151.5,905.4 L152.9,906.9 L154.4,904.4 L155.7,904.4 L157.7,904.7 L158.8,904.3 L160.8,905.4 L161.7,905.0 L163.1,905.8 L165.1,906.2 L166.1,907.4 L167.7,909.0 L169.1,908.4 L171.0,908.6 L172.6,909.2 L173.6,909.3 L175.3,909.5 L177.2,910.7 L179.3,909.8 L180.5,909.2 L182.3,908.9 L183.9,909.9 L185.4,907.6 L187.4,908.1 L188.9,907.2 L190.3,907.3 L191.9,907.2 L193.3,905.6 L194.7,907.3 L196.6,907.2 L198.0,906.5 L200.0,906.2 L201.5,905.6 L202.7,904.8 L203.7,904.1 L205.3,901.6 L206.5,904.0 L207.6,903.2 L209.1,904.7 L210.3,906.9 L211.0,906.9 L212.7,908.9 L214.0,910.4 L215.4,909.1 L217.8,908.9 L219.1,908.7 L220.7,909.4 L222.4,908.0 L224.0,906.3 L225.4,905.8 L227.1,905.9 L228.3,904.5 L229.7,902.8 L231.5,903.4 L233.3,903.3 L234.4,902.5 L236.3,902.8 L237.2,903.7 L239.1,903.0 L240.0,905.2 L241.3,906.6 L242.3,908.0 L244.1,907.4 L245.1,908.5 L247.1,908.1 L248.4,908.7 L250.2,907.0 L251.7,907.6 L252.8,909.5 L254.4,909.9 L255.7,910.6 L257.3,909.2 L258.9,909.7 L260.5,911.0 L262.1,909.0 L263.4,910.1 L265.0,910.2 L266.3,908.6 L267.9,909.7 L269.6,908.8 L271.5,907.7 L272.6,906.5 L273.3,906.2 L274.2,905.0 L274.8,903.7 L275.8,901.7 L276.3,899.2 L277.1,898.3 L277.7,896.1 L277.9,894.4 L279.0,892.8 L279.7,891.9 L280.1,891.0 L281.6,889.8 L282.9,893.5 L283.2,893.9 L283.8,894.4 L284.1,895.4 L285.1,898.9 L285.5,900.5 L286.1,900.5 L286.4,902.5 L287.2,905.2 L288.3,906.8 L288.8,907.1 L290.1,907.5 L290.8,907.1 L291.4,906.1 L292.2,903.7 L293.3,902.1 L293.7,899.4 L294.3,898.8 L295.4,897.7 L295.6,894.8 L296.5,893.0 L296.9,891.1 L297.3,891.4 L299.2,891.8 L300.4,894.8 L301.2,894.3 L301.4,897.7 L302.7,899.3 L303.1,899.6 L303.5,900.8 L304.7,903.5 L306.4,904.1 L307.2,903.7 L308.7,906.0 L310.1,906.5 L312.1,906.8 L313.9,906.8 L315.0,906.7 L316.3,905.7 L317.7,904.5 L318.5,904.9 L319.4,903.1 L320.1,901.0 L320.6,900.0 L321.6,897.7 L322.5,896.7 L323.8,897.3 L324.9,897.8 L326.5,898.8 L326.7,897.2 L327.9,895.8 L328.3,894.9 L329.3,892.3 L329.7,891.1 L330.2,891.3 L331.2,891.8 L332.2,891.3 L333.7,894.4 L334.3,895.1 L335.7,896.2 L336.8,897.1 L338.6,897.5 L339.8,899.0 L340.3,900.0 L341.4,900.9 L341.7,902.6 L343.1,903.4 L343.9,905.9 L345.2,905.0 L346.6,906.3 L348.4,907.8 L349.9,908.9 L351.5,908.0 L353.3,909.5 L355.0,909.8 L356.6,909.6 L358.4,909.4 L360.3,909.2 L361.4,910.1 L363.2,909.7 L364.9,909.1 L366.3,908.7 L368.4,910.5 L370.1,908.7 L371.8,910.2 L373.0,908.3 L374.9,909.6 L376.4,908.2 L378.1,908.1 L379.6,908.3 L381.0,909.8 L382.7,909.5 L384.1,908.4 L385.9,907.4 L387.3,909.3 L389.0,908.8 L390.0,908.2 L391.5,908.0 L393.3,905.9 L394.6,906.4 L396.6,904.5 L397.8,905.3 L398.9,907.2 L399.9,907.8 L401.1,908.6 L402.2,909.1 L403.7,910.9 L404.9,909.5 L406.2,908.3 L407.8,905.4 L409.1,907.6 L410.9,908.5 L412.3,907.9 L413.7,909.4 L415.6,909.1 L416.7,910.7 L418.2,911.0 L419.9,910.1 L421.6,910.9 L422.8,910.7 L424.4,910.3 L426.0,910.1 L427.5,908.4 L429.0,908.1 L430.7,908.9 L432.4,907.0 L434.1,906.3 L435.2,908.0 L437.2,907.7 L438.7,906.7 L440.3,908.4 L441.5,909.1 L442.7,908.0 L444.3,909.0 L446.1,909.4 L447.4,910.0 L449.4,910.1 L450.5,908.6 L452.2,908.6 L453.8,908.1 L455.6,907.8 L457.1,907.8 L459.1,905.6 L460.0,906.3 L461.2,903.0 L462.4,903.7 L464.0,903.5 L465.2,902.0 L466.5,904.7 L467.9,904.7 L469.2,906.6 L470.5,907.7 L472.3,907.8 L474.0,909.7 L475.3,908.7 L476.9,910.0 L479.0,910.2 L480.9,910.5 L482.3,910.8 L484.0,910.7 L485.7,909.4 L487.1,911.0 L488.5,909.2 L490.2,909.6 L491.9,909.4 L493.6,908.9 L494.9,909.9 L496.9,910.3 L498.9,908.5 L500.1,908.8 L501.9,908.2 L503.7,907.6 L505.0,907.2 L506.8,908.0 L508.3,906.7 L509.6,907.5 L510.6,907.8 L512.6,906.1 L514.1,907.6 L515.3,907.3 L516.5,906.5 L518.1,908.7 L519.3,908.2 L520.8,909.0 L522.8,909.7 L524.0,908.6 L525.5,908.7 L527.8,909.2 L529.0,908.0 L530.7,907.9 L532.8,907.5 L534.4,909.2 L535.9,907.9 L537.5,909.9 L538.9,908.3 L539.7,909.0 L541.7,909.2 L543.0,909.3 L545.0,908.8 L546.3,908.1 L547.8,906.3 L548.8,905.4 L549.8,905.9 L551.2,904.6 L552.4,905.6 L553.6,906.6 L554.9,908.3 L556.1,908.6 L558.2,908.7 L559.9,908.5 L561.4,907.9 L562.5,905.8 L563.9,904.2 L565.0,904.1 L566.9,903.0 L568.8,902.3 L570.2,904.1 L571.3,905.8 L572.4,905.6 L573.7,906.6 L575.1,907.5 L576.6,908.7 L578.2,909.2 L580.1,909.6 L581.7,910.8 L582.8,910.9 L584.2,909.1 L586.3,908.7 L587.2,910.3 L588.7,909.5 L590.6,908.0 L591.9,909.1 L593.5,907.1 L595.0,908.0 L596.6,906.8 L598.5,907.4 L599.6,907.9 L601.6,909.4 L603.1,910.2 L604.8,910.2 L606.2,910.9 L607.3,909.8 L609.2,909.6 L610.6,909.7 L612.1,908.5 L613.7,906.6 L615.4,906.6 L616.9,906.7 L618.7,907.0 L620.9,907.6 L622.8,906.6 L624.1,907.8 L625.5,907.8 L627.0,907.8 L629.0,907.8 L630.3,907.0 L631.3,906.8 L633.2,905.5 L634.0,905.0 L634.9,902.6 L635.9,903.0 L637.4,902.0 L638.6,900.6 L640.2,902.2 L641.6,901.5 L643.3,902.9 L644.8,903.3 L646.3,903.3 L648.4,903.3 L650.0,903.3 L651.1,903.5 L652.9,903.7 L654.7,902.5 L656.6,901.9 L658.2,901.8 L659.9,900.8 L661.2,900.0 L663.2,900.3 L665.0,900.1 L666.4,899.5 L667.4,900.2 L668.2,901.5 L668.7,904.7 L670.2,904.6 L670.8,907.0 L672.4,906.8 L673.8,909.5 L675.0,909.0 L676.0,908.7 L677.8,910.0 L679.5,908.6 L681.2,908.0 L682.6,908.1 L683.7,908.2 L685.7,908.5 L686.7,909.3 L688.4,909.6 L690.1,910.0 L691.8,909.0 L693.3,908.4 L694.6,908.1 L696.5,908.2 L697.6,908.8 L698.6,906.2 L699.4,905.4 L700.3,903.0 L701.5,902.8 L702.7,902.0 L703.8,900.8 L705.1,898.8 L706.5,898.9 L707.6,896.3 L709.3,896.2 L711.3,895.7 L712.7,895.2 L714.0,895.4 L715.2,896.5 L716.0,898.6 L716.9,900.9 L717.3,902.7 L718.2,902.9 L718.8,906.4 L719.5,907.4 L719.9,908.1 L721.5,908.9 L722.8,909.3 L724.7,907.2 L726.2,907.1 L727.8,907.4 L729.4,908.2 L731.2,909.8 L732.3,910.2 L734.1,909.3 L735.9,909.0 L737.2,910.4 L738.6,910.0 L740.3,909.2 L741.5,908.3 L743.0,909.3 L743.7,907.9 L744.9,905.3 L745.7,905.6 L746.7,903.7 L747.2,901.4 L748.1,900.5 L749.0,898.7 L749.2,898.3 L749.9,896.3 L750.3,894.1 L750.4,891.7 L751.0,891.7 L751.6,890.9 L752.6,887.7 L754.1,886.1 L754.5,887.7 L755.5,889.2 L756.1,891.3 L756.4,892.3 L756.8,893.6 L757.5,895.4 L757.6,897.4 L758.3,898.8 L758.5,900.8 L759.2,901.5 L759.6,902.8 L760.5,904.9 L761.3,906.1 L761.9,907.9 L763.0,910.0 L763.6,909.0 L765.3,909.8 L766.6,909.0 L768.2,908.6 L769.9,907.2 L771.4,909.2 L773.0,908.9 L774.6,908.7 L775.8,909.9 L777.2,910.1 L779.0,909.9 L781.2,910.4 L782.8,910.3 L785.1,908.8 L786.4,909.0 L788.0,909.4 L788.4,906.5 L789.5,906.1 L790.6,902.5 L790.9,901.8 L792.2,900.6 L792.5,899.6 L793.2,898.0 L793.6,895.0 L794.2,894.4 L794.8,891.7 L794.7,891.0 L796.1,888.8 L797.2,889.0 L798.0,889.1 L798.4,891.2 L799.0,893.6 L799.7,895.5 L800.3,896.1 L801.3,897.9 L801.7,900.3 L802.2,901.8 L803.1,902.0 L803.7,903.3 L804.8,905.3 L805.6,907.3 L806.8,908.6 L807.4,909.2 L808.9,909.6 L810.0,907.8 L811.5,905.9 L811.9,905.6 L812.6,904.9 L813.3,902.3 L814.3,901.7 L815.3,901.0 L815.7,898.5 L816.7,897.2 L817.5,895.4 L818.5,895.0 L819.3,893.2 L820.3,890.8 L821.3,889.2 L821.8,888.5 L822.9,886.7 L824.1,885.3 L824.9,884.7 L826.6,882.4 L827.5,881.9 L828.6,881.0 L830.3,881.2 L832.1,882.6 L833.8,883.7 L834.9,884.7 L835.6,886.2 L836.8,887.9 L837.6,888.6 L838.7,890.3 L839.7,891.7 L840.2,893.7 L840.5,895.4 L841.3,896.1 L841.6,896.3 L842.3,898.9 L842.9,900.9 L843.5,902.2 L844.6,903.8 L845.2,905.5 L845.8,905.0 L846.3,906.6 L847.9,908.7 L849.9,907.9 L851.1,907.1 L852.2,907.9 L852.4,905.2 L853.1,905.6 L853.6,903.1 L854.7,900.6 L855.1,899.6 L855.6,898.3 L855.7,897.7 L856.4,896.3 L857.0,894.8 L857.6,891.5 L858.2,891.7 L859.8,889.5 L861.1,887.2 L862.1,887.3 L862.6,887.6 L864.0,889.1 L864.8,889.8 L865.4,892.5 L866.4,894.7 L867.2,895.7 L868.2,897.6 L869.1,898.5 L869.9,900.8 L871.0,901.7 L872.1,903.2 L873.2,902.7 L874.4,904.6 L875.8,904.6 L876.5,907.1 L877.7,907.0 L878.5,908.5 L879.7,908.0 L880.0,906.1 L880.8,904.7 L881.5,902.2 L882.5,900.6 L883.5,899.1 L884.0,898.9 L884.9,896.5 L886.2,895.7 L887.2,895.3 L888.6,892.7 L889.6,892.9 L891.0,893.3 L892.4,892.9 L893.9,891.0 L895.9,890.9 L897.5,890.4 L899.1,888.5 L900.7,887.6 L902.5,888.5 L903.7,888.4 L905.0,890.2 L906.3,890.2 L908.0,889.4 L909.7,887.2 L911.1,889.0 L912.0,890.7 L912.9,892.9 L913.4,893.9 L914.2,894.8 L914.7,897.6 L915.4,897.5 L915.6,899.3 L916.1,901.2 L917.6,902.1 L918.9,905.0 L920.3,905.9 L921.1,906.8 L923.0,907.0 L924.7,908.1 L926.5,909.6 L927.7,907.7 L929.6,907.1 L930.8,907.8 L932.3,905.8 L934.1,906.0 L935.4,904.3 L936.7,904.0 L938.6,905.6 L939.9,907.6 L941.0,907.0 L943.0,906.7 L944.9,905.4 L946.6,906.0 L948.1,907.0 L949.6,906.7 L951.3,908.5 L953.2,909.1 L954.9,910.0 L956.5,909.2 L958.7,909.6 L959.9,908.0" stroke="#000000" stroke-width="4.8"/>
</g>
<g id="bands" fill="#585858" fill-opacity="0.47" stroke="#404040" stroke-opacity="0.16" stroke-width="1.4">
<rect x="201.8" y="4.5" width="7.8" height="922"/>
<rect x="254.7" y="4.5" width="7.8" height="922"/>
<rect x="391.8" y="4.5" width="7.8" height="922"/>
<rect x="446.2" y="4.5" width="7.8" height="922"/>
<rect x="591.4" y="4.5" width="7.8" height="922"/>
<rect x="733.5" y="4.5" width="7.8" height="922"/>
<rect x="750.7" y="4.5" width="7.8" height="922"/>
<rect x="869.6" y="4.5" width="7.8" height="922"/>
<rect x="895.7" y="4.5" width="7.8" height="922"/>
</g>
<g stroke="#000" stroke-width="2">
<line x1="83" y1="351" x2="962" y2="351"/>
<line x1="85.5" y1="721.8" x2="962" y2="721.8"/>
<line x1="85.5" y1="817.6" x2="962" y2="817.6"/>
</g>
<path d="M82.3,925.5 V4.25 H962.8 V925.8" fill="none" stroke="#000" stroke-width="3" stroke-linejoin="miter"/>
<line x1="80.8" y1="926.8" x2="964.3" y2="926.8" stroke="#000" stroke-width="2.1"/>
<g stroke="#5a5a5a" stroke-width="1.3">
<line x1="81.3" y1="927" x2="81.3" y2="937"/>
<line x1="198.7" y1="927" x2="198.7" y2="937"/>
<line x1="316.1" y1="927" x2="316.1" y2="937"/>
<line x1="433.5" y1="927" x2="433.5" y2="937"/>
<line x1="550.9" y1="927" x2="550.9" y2="937"/>
<line x1="668.4" y1="927" x2="668.4" y2="937"/>
<line x1="785.8" y1="927" x2="785.8" y2="937"/>
<line x1="903.5" y1="927" x2="903.5" y2="937"/>
</g>
<g class="ser" font-size="37.3" text-anchor="middle">
<text x="82.1" y="982.2">200</text>
<text x="199.5" y="982.2">400</text>
<text x="316.9" y="982.2">600</text>
<text x="434.3" y="982.2">800</text>
<text x="551.7" y="982.2">1000</text>
<text x="669.2" y="982.2">1200</text>
<text x="786.6" y="982.2">1400</text>
<text x="904.3" y="982.2">1600</text>
</g>
<text class="ser" font-size="36.8" x="380.3" y="1042.3" word-spacing="0.6" xml:space="preserve">Raman shift  (cm<tspan font-size="24" dy="-11.6">-1</tspan><tspan dy="11.6">)</tspan></text>
<text class="ser" font-size="43.2" word-spacing="-7.3" transform="translate(33.5,594.2) rotate(-90)">Raman Intensity</text>
<text class="ser" font-size="43.5" x="106" y="288.6" style="fill:#ff0000">D</text>
<text class="ser" font-size="43.5" x="108.7" y="676.6" style="fill:#0e68c2">C</text>
<text class="ser" font-size="43.5" x="101.8" y="789" style="fill:#12a84d">B</text>
<text class="ser" font-size="42.5" x="105" y="889.8">A</text>
<g class="lab">
<text x="167.3" y="223.9">420 cm<tspan class="sup" dy="-10.4">-1</tspan></text>
<text x="221.4" y="152.2">501 cm<tspan class="sup" dy="-10.4">-1</tspan></text>
<text x="358.0" y="207.5">735 cm<tspan class="sup" dy="-10.4">-1</tspan></text>
<text x="411.3" y="172.4">825 cm<tspan class="sup" dy="-10.4">-1</tspan></text>
<text x="547.7" y="146.6">1075 cm<tspan class="sup" dy="-10.4">-1</tspan></text>
<text x="639.4" y="286.6">1202 cm<tspan class="sup" dy="-10.4">-1</tspan></text>
<text x="682.3" y="257.2">1315 cm<tspan class="sup" dy="-10.4">-1</tspan></text>
<text x="729.3" y="217.8">1344 cm<tspan class="sup" dy="-10.4">-1</tspan></text>
<text x="842.3" y="221.0">1545 cm<tspan class="sup" dy="-10.4">-1</tspan></text>
<text x="870.3" y="257.4">1586 cm<tspan class="sup" dy="-10.4">-1</tspan></text>
<text x="168.0" y="660.8">411 cm<tspan class="sup" dy="-10.4">-1</tspan></text>
<text x="224.3" y="618.1">540 cm<tspan class="sup" dy="-10.4">-1</tspan></text>
<text x="266.5" y="580.1">570 cm<tspan class="sup" dy="-10.4">-1</tspan></text>
<text x="309.4" y="557.0">592 cm<tspan class="sup" dy="-10.4">-1</tspan></text>
<text x="333.1" y="609.9">636 cm<tspan class="sup" dy="-10.4">-1</tspan></text>
<text x="412.5" y="654.0">807 cm<tspan class="sup" dy="-10.4">-1</tspan></text>
<text x="627.0" y="670.1">1190 cm<tspan class="sup" dy="-10.4">-1</tspan></text>
<text x="667.7" y="575.7">1267 cm<tspan class="sup" dy="-10.4">-1</tspan></text>
<text x="662.7" y="514.2">1327 cm<tspan class="sup" dy="-10.4">-1</tspan></text>
<text x="734.3" y="475.1">1341 cm<tspan class="sup" dy="-10.4">-1</tspan></text>
<text x="845.9" y="606.0">1530 cm<tspan class="sup" dy="-10.4">-1</tspan></text>
<text x="869.6" y="636.1">1590 cm<tspan class="sup" dy="-10.4">-1</tspan></text>
</g>
</svg>
</body></html>
